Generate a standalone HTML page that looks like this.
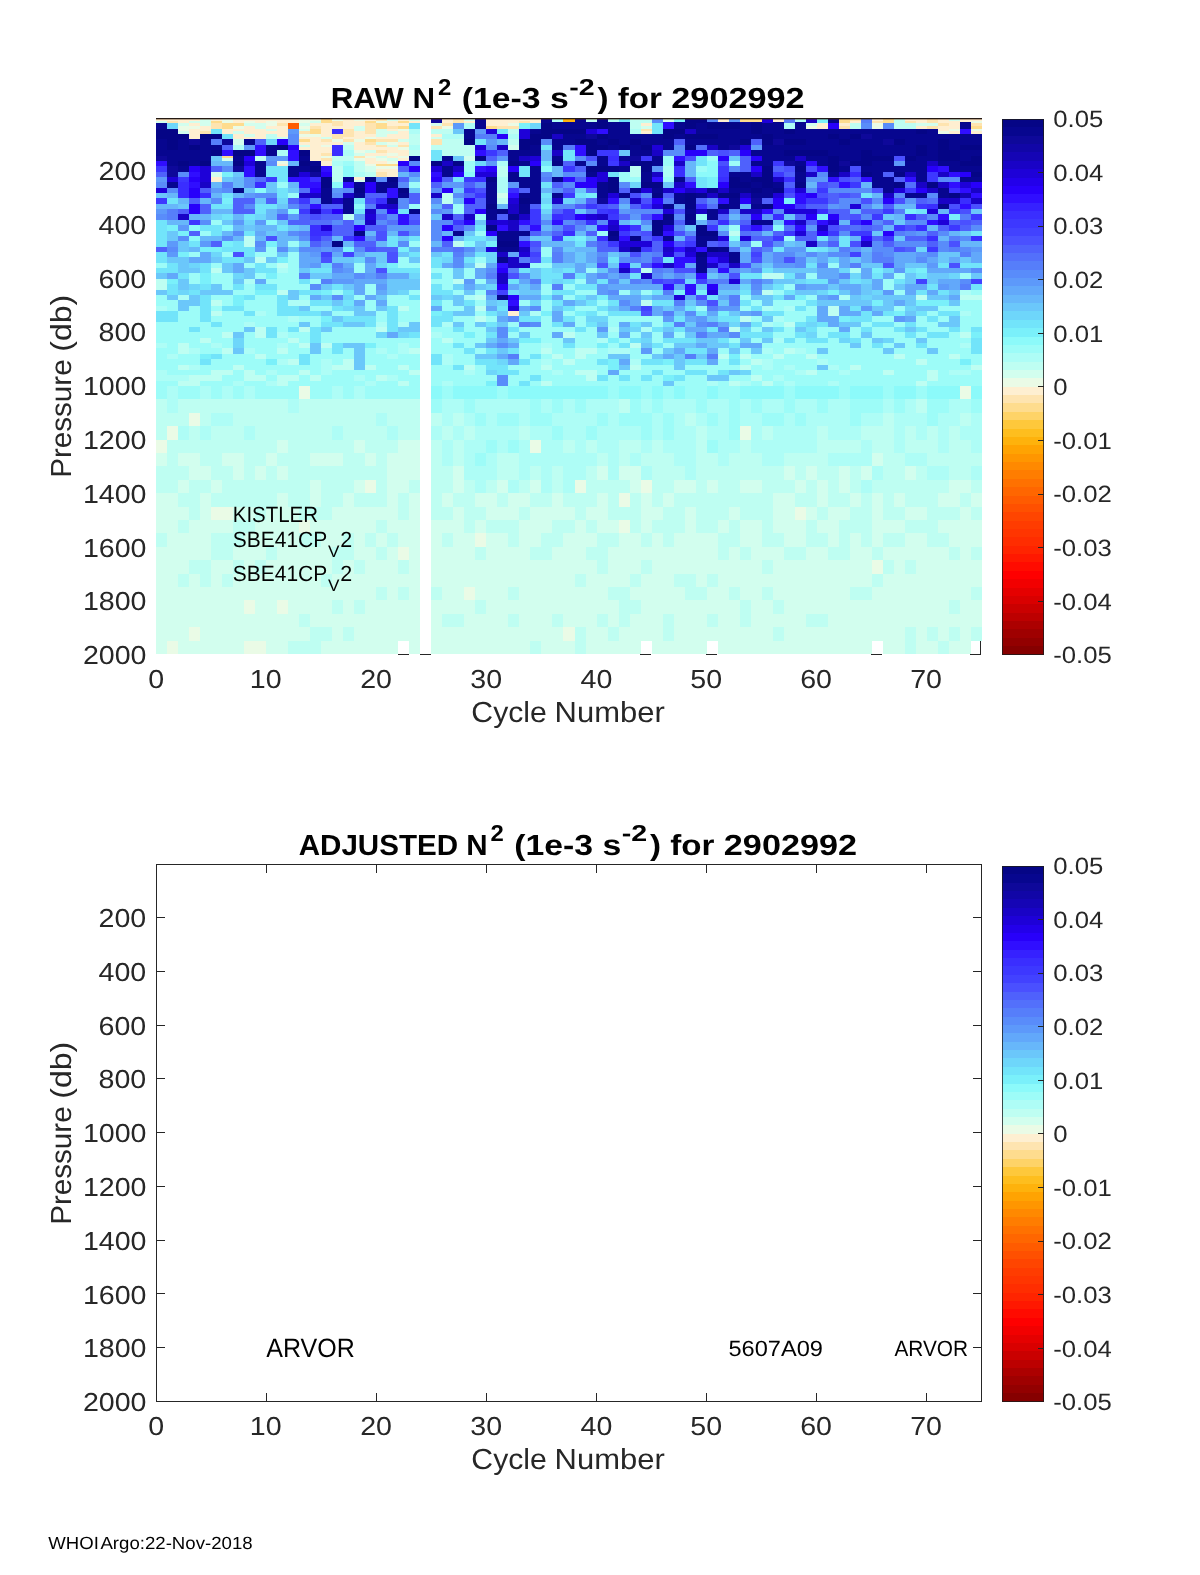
<!DOCTYPE html>
<html><head><meta charset="utf-8"><title>N2 2902992</title>
<style>
html,body{margin:0;padding:0;background:#fff;}
body{width:1200px;height:1575px;overflow:hidden;font-family:"Liberation Sans",sans-serif;}
svg{display:block;font-family:"Liberation Sans",sans-serif;}
</style></head><body>
<svg width="1200" height="1575" viewBox="0 0 1200 1575" shape-rendering="crispEdges">
<rect x="0" y="0" width="1200" height="1575" fill="#ffffff"/>

<g id="heat"><path fill="#feefd1" d="M156 118.00h11V120.68h-11zM167 118.00h11V120.68h-11zM178 118.00h11V123.36h-11zM189 118.00h11V120.68h-11zM189 123.36h11V126.04h-11zM189 128.72h11V139.44h-11zM200 126.04h11V131.40h-11zM211 118.00h11V120.68h-11zM211 176.96h11V182.32h-11zM222 128.72h11V134.08h-11zM233 118.00h11V123.36h-11zM233 128.72h11V131.40h-11zM233 134.08h11V139.44h-11zM244 118.00h11V120.68h-11zM244 126.04h11V134.08h-11zM244 136.76h11V139.44h-11zM255 118.00h11V123.36h-11zM255 128.72h11V139.44h-11zM266 118.00h11V120.68h-11zM266 126.04h11V128.72h-11zM266 131.40h11V134.08h-11zM277 118.00h11V123.36h-11zM277 126.04h11V136.76h-11zM277 163.56h11V166.24h-11zM288 118.00h11V123.36h-11zM299 136.76h11V139.44h-11zM299 142.12h11V144.80h-11zM299 147.48h11V150.16h-11zM310 123.36h11V126.04h-11zM310 136.76h11V160.88h-11zM321 123.36h11V136.76h-11zM321 142.12h11V144.80h-11zM321 147.48h11V152.84h-11zM321 160.88h11V166.24h-11zM332 126.04h11V128.72h-11zM332 142.12h11V144.80h-11zM343 118.00h11V128.72h-11zM343 136.76h11V139.44h-11zM354 120.68h11V126.04h-11zM354 131.40h11V139.44h-11zM354 142.12h11V150.16h-11zM354 176.96h11V179.64h-11zM365 118.00h11V120.68h-11zM365 134.08h11V136.76h-11zM365 144.80h11V150.16h-11zM365 152.84h11V155.52h-11zM365 158.20h11V163.56h-11zM376 136.76h11V139.44h-11zM376 147.48h11V150.16h-11zM376 152.84h11V155.52h-11zM376 160.88h11V163.56h-11zM376 168.92h11V171.60h-11zM387 120.68h11V126.04h-11zM387 128.72h11V131.40h-11zM387 134.08h11V139.44h-11zM387 147.48h11V152.84h-11zM387 155.52h11V158.20h-11zM387 168.92h11V176.96h-11zM398 118.00h11V120.68h-11zM398 123.36h11V126.04h-11zM398 131.40h11V139.44h-11zM398 142.12h11V144.80h-11zM398 150.16h11V155.52h-11zM398 158.20h11V160.88h-11zM409 120.68h11V123.36h-11zM431 134.08h11V136.76h-11zM442 118.00h11V123.36h-11zM464 120.68h11V123.36h-11zM486 118.00h11V126.04h-11zM497 118.00h11V126.04h-11zM508 118.00h11V123.36h-11zM508 310.96h11V316.32h-11zM519 118.00h11V120.68h-11zM530 118.00h11V123.36h-11zM641 123.36h11V126.04h-11zM641 131.40h11V134.08h-11zM718 118.00h11V121.70h-11zM773 118.00h11V121.70h-11zM817 123.36h11V128.72h-11zM839 123.36h11V126.04h-11zM850 120.68h11V123.36h-11zM872 118.00h11V120.68h-11zM905 118.00h11V120.68h-11zM916 118.00h11V123.36h-11zM916 126.04h11V128.72h-11zM938 118.00h11V123.36h-11zM938 126.04h11V131.40h-11zM949 120.68h11V128.72h-11zM949 131.40h11V134.08h-11zM960 118.00h11V121.70h-11zM971 118.00h11V120.68h-11zM971 131.40h11V134.08h-11z"/>
<path fill="#d2feee" d="M156 120.68h11V123.36h-11zM156 453.00h11V466.40h-11zM156 493.20h11V533.40h-11zM156 546.80h11V654.00h-11zM167 493.20h11V640.60h-11zM178 123.36h11V126.04h-11zM178 131.40h11V134.08h-11zM178 453.00h11V466.40h-11zM178 479.80h11V493.20h-11zM178 506.60h11V520.00h-11zM178 533.40h11V573.60h-11zM178 587.00h11V654.00h-11zM189 120.68h11V123.36h-11zM189 453.00h11V479.80h-11zM189 520.00h11V560.20h-11zM189 573.60h11V627.20h-11zM189 640.60h11V654.00h-11zM200 118.00h11V126.04h-11zM200 466.40h11V479.80h-11zM200 493.20h11V560.20h-11zM200 587.00h11V654.00h-11zM211 171.60h11V176.96h-11zM211 479.80h11V493.20h-11zM211 520.00h11V533.40h-11zM211 560.20h11V654.00h-11zM222 158.20h11V160.88h-11zM222 453.00h11V466.40h-11zM222 520.00h11V533.40h-11zM222 560.20h11V573.60h-11zM222 587.00h11V654.00h-11zM233 131.40h11V134.08h-11zM233 139.44h11V144.80h-11zM233 453.00h11V479.80h-11zM233 506.60h11V520.00h-11zM233 546.80h11V560.20h-11zM233 573.60h11V654.00h-11zM244 123.36h11V126.04h-11zM244 134.08h11V136.76h-11zM244 506.60h11V520.00h-11zM244 533.40h11V600.40h-11zM244 613.80h11V640.60h-11zM255 123.36h11V128.72h-11zM255 466.40h11V479.80h-11zM255 520.00h11V560.20h-11zM255 573.60h11V640.60h-11zM266 128.72h11V131.40h-11zM266 453.00h11V466.40h-11zM266 506.60h11V546.80h-11zM266 560.20h11V654.00h-11zM277 136.76h11V139.44h-11zM277 439.60h11V453.00h-11zM277 466.40h11V479.80h-11zM277 493.20h11V600.40h-11zM277 613.80h11V654.00h-11zM288 506.60h11V640.60h-11zM299 123.36h11V126.04h-11zM299 128.72h11V131.40h-11zM299 144.80h11V147.48h-11zM299 546.80h11V613.80h-11zM299 627.20h11V640.60h-11zM310 120.68h11V123.36h-11zM310 453.00h11V466.40h-11zM310 479.80h11V506.60h-11zM310 520.00h11V533.40h-11zM310 546.80h11V627.20h-11zM321 136.76h11V139.44h-11zM321 453.00h11V466.40h-11zM321 520.00h11V573.60h-11zM321 587.00h11V627.20h-11zM321 640.60h11V654.00h-11zM332 453.00h11V466.40h-11zM332 506.60h11V546.80h-11zM332 573.60h11V600.40h-11zM332 613.80h11V654.00h-11zM343 142.12h11V144.80h-11zM343 493.20h11V533.40h-11zM343 560.20h11V627.20h-11zM343 640.60h11V654.00h-11zM354 126.04h11V131.40h-11zM354 152.84h11V155.52h-11zM354 179.64h11V182.32h-11zM354 439.60h11V453.00h-11zM354 479.80h11V493.20h-11zM354 506.60h11V560.20h-11zM354 573.60h11V600.40h-11zM354 613.80h11V654.00h-11zM365 150.16h11V152.84h-11zM365 166.24h11V171.60h-11zM365 453.00h11V466.40h-11zM365 506.60h11V533.40h-11zM365 546.80h11V654.00h-11zM376 128.72h11V136.76h-11zM376 142.12h11V144.80h-11zM376 155.52h11V158.20h-11zM376 506.60h11V520.00h-11zM376 533.40h11V546.80h-11zM376 560.20h11V587.00h-11zM376 600.40h11V654.00h-11zM387 118.00h11V120.68h-11zM387 131.40h11V134.08h-11zM387 144.80h11V147.48h-11zM387 158.20h11V160.88h-11zM387 453.00h11V533.40h-11zM387 546.80h11V654.00h-11zM398 139.44h11V142.12h-11zM398 439.60h11V493.20h-11zM398 520.00h11V546.80h-11zM398 573.60h11V587.00h-11zM398 600.40h11V640.60h-11zM409 118.00h11V120.68h-11zM409 439.60h11V479.80h-11zM409 493.20h11V654.00h-11zM431 123.36h11V126.04h-11zM431 136.76h11V139.44h-11zM431 520.00h11V587.00h-11zM431 600.40h11V654.00h-11zM442 493.20h11V506.60h-11zM442 520.00h11V533.40h-11zM442 546.80h11V613.80h-11zM442 627.20h11V654.00h-11zM453 466.40h11V493.20h-11zM453 506.60h11V613.80h-11zM453 627.20h11V654.00h-11zM464 118.00h11V120.68h-11zM464 155.52h11V160.88h-11zM464 533.40h11V587.00h-11zM464 600.40h11V654.00h-11zM475 493.20h11V506.60h-11zM475 520.00h11V533.40h-11zM475 560.20h11V600.40h-11zM475 613.80h11V654.00h-11zM486 493.20h11V520.00h-11zM486 533.40h11V654.00h-11zM497 193.04h11V198.40h-11zM497 479.80h11V493.20h-11zM497 506.60h11V520.00h-11zM497 533.40h11V654.00h-11zM508 144.80h11V150.16h-11zM508 493.20h11V520.00h-11zM508 546.80h11V587.00h-11zM508 600.40h11V613.80h-11zM508 627.20h11V654.00h-11zM519 493.20h11V506.60h-11zM519 520.00h11V654.00h-11zM530 479.80h11V493.20h-11zM530 506.60h11V546.80h-11zM530 560.20h11V640.60h-11zM541 506.60h11V533.40h-11zM541 560.20h11V654.00h-11zM552 493.20h11V520.00h-11zM552 546.80h11V613.80h-11zM552 627.20h11V654.00h-11zM563 506.60h12V520.00h-12zM563 533.40h12V627.20h-12zM563 640.60h12V654.00h-12zM575 520.00h11V573.60h-11zM575 587.00h11V627.20h-11zM586 506.60h11V520.00h-11zM586 533.40h11V546.80h-11zM586 560.20h11V654.00h-11zM597 466.40h11V479.80h-11zM597 493.20h11V533.40h-11zM597 573.60h11V613.80h-11zM597 627.20h11V654.00h-11zM608 520.00h11V533.40h-11zM608 546.80h11V587.00h-11zM608 600.40h11V627.20h-11zM608 640.60h11V654.00h-11zM619 466.40h11V479.80h-11zM619 533.40h11V587.00h-11zM619 627.20h11V654.00h-11zM630 466.40h11V493.20h-11zM630 533.40h11V573.60h-11zM630 587.00h11V600.40h-11zM630 613.80h11V654.00h-11zM641 126.04h11V128.72h-11zM641 493.20h11V533.40h-11zM641 546.80h11V560.20h-11zM641 573.60h11V640.60h-11zM652 506.60h11V520.00h-11zM652 533.40h11V654.00h-11zM663 118.00h11V121.70h-11zM663 493.20h11V506.60h-11zM663 546.80h11V613.80h-11zM663 640.60h11V654.00h-11zM674 479.80h11V493.20h-11zM674 533.40h11V573.60h-11zM674 587.00h11V654.00h-11zM685 479.80h11V493.20h-11zM685 506.60h11V573.60h-11zM685 600.40h11V654.00h-11zM696 533.40h11V587.00h-11zM696 600.40h11V654.00h-11zM707 479.80h11V493.20h-11zM707 533.40h11V573.60h-11zM707 587.00h11V613.80h-11zM707 627.20h11V640.60h-11zM718 520.00h11V533.40h-11zM718 560.20h11V654.00h-11zM729 506.60h11V520.00h-11zM729 546.80h11V587.00h-11zM729 600.40h11V654.00h-11zM740 479.80h11V493.20h-11zM740 520.00h11V546.80h-11zM740 560.20h11V600.40h-11zM740 627.20h11V654.00h-11zM751 479.80h11V493.20h-11zM751 520.00h11V654.00h-11zM762 546.80h11V560.20h-11zM762 573.60h11V587.00h-11zM762 600.40h11V654.00h-11zM773 493.20h11V533.40h-11zM773 546.80h11V600.40h-11zM773 613.80h11V627.20h-11zM773 640.60h11V654.00h-11zM784 466.40h11V479.80h-11zM784 493.20h11V546.80h-11zM784 560.20h11V654.00h-11zM795 479.80h11V493.20h-11zM795 520.00h11V546.80h-11zM795 560.20h11V654.00h-11zM806 123.36h11V126.04h-11zM806 466.40h11V479.80h-11zM806 506.60h11V520.00h-11zM806 546.80h11V613.80h-11zM806 627.20h11V654.00h-11zM817 479.80h11V506.60h-11zM817 520.00h11V533.40h-11zM817 546.80h11V613.80h-11zM817 627.20h11V654.00h-11zM828 506.60h11V546.80h-11zM828 560.20h11V654.00h-11zM839 466.40h11V493.20h-11zM839 506.60h11V520.00h-11zM839 560.20h11V654.00h-11zM850 493.20h11V506.60h-11zM850 533.40h11V587.00h-11zM850 600.40h11V654.00h-11zM861 466.40h11V479.80h-11zM861 546.80h11V587.00h-11zM861 600.40h11V654.00h-11zM872 453.00h11V466.40h-11zM872 493.20h11V546.80h-11zM872 587.00h11V640.60h-11zM883 520.00h11V533.40h-11zM883 546.80h11V560.20h-11zM883 573.60h11V654.00h-11zM894 493.20h11V506.60h-11zM894 520.00h11V533.40h-11zM894 546.80h11V654.00h-11zM905 466.40h11V479.80h-11zM905 506.60h11V520.00h-11zM905 533.40h11V560.20h-11zM905 573.60h11V627.20h-11zM916 123.36h11V126.04h-11zM916 506.60h11V520.00h-11zM916 533.40h11V654.00h-11zM927 123.36h11V126.04h-11zM927 546.80h11V627.20h-11zM927 640.60h11V654.00h-11zM938 493.20h11V506.60h-11zM938 520.00h11V533.40h-11zM938 546.80h11V640.60h-11zM949 118.00h11V120.68h-11zM949 479.80h11V506.60h-11zM949 520.00h11V546.80h-11zM949 560.20h11V600.40h-11zM949 613.80h11V627.20h-11zM949 640.60h11V654.00h-11zM960 479.80h11V493.20h-11zM960 506.60h11V654.00h-11zM971 493.20h11V506.60h-11zM971 520.00h11V546.80h-11zM971 560.20h11V587.00h-11zM971 600.40h11V627.20h-11z"/>
<path fill="#07068f" d="M156 123.36h11V128.72h-11zM156 139.44h11V155.52h-11zM167 150.16h11V166.24h-11zM167 182.32h11V187.68h-11zM178 139.44h11V160.88h-11zM178 166.24h11V171.60h-11zM189 150.16h11V166.24h-11zM200 139.44h11V160.88h-11zM211 144.80h11V150.16h-11zM233 155.52h11V160.88h-11zM244 139.44h11V144.80h-11zM255 160.88h11V176.96h-11zM266 144.80h11V155.52h-11zM288 166.24h11V176.96h-11zM299 155.52h11V160.88h-11zM299 166.24h11V171.60h-11zM310 160.88h11V166.24h-11zM321 187.68h11V203.76h-11zM343 176.96h11V182.32h-11zM343 198.40h11V214.48h-11zM354 182.32h11V187.68h-11zM354 193.04h11V198.40h-11zM376 182.32h11V193.04h-11zM387 182.32h11V187.68h-11zM387 198.40h11V203.76h-11zM398 193.04h11V198.40h-11zM442 155.52h11V160.88h-11zM442 166.24h11V176.96h-11zM453 230.56h11V235.92h-11zM464 128.72h11V139.44h-11zM475 118.00h11V128.72h-11zM486 182.32h11V203.76h-11zM486 209.12h11V219.84h-11zM497 230.56h11V241.28h-11zM497 246.64h11V252.00h-11zM497 257.36h11V262.72h-11zM497 294.88h11V300.24h-11zM508 150.16h11V160.88h-11zM508 171.60h11V182.32h-11zM508 214.48h11V219.84h-11zM508 230.56h11V241.28h-11zM508 246.64h11V252.00h-11zM519 150.16h11V155.52h-11zM519 160.88h11V166.24h-11zM519 176.96h11V187.68h-11zM519 193.04h11V198.40h-11zM519 203.76h11V214.48h-11zM519 230.56h11V235.92h-11zM530 128.72h11V134.08h-11zM530 144.80h11V155.52h-11zM530 166.24h11V203.76h-11zM541 118.00h11V123.36h-11zM552 121.70h11V128.72h-11zM552 139.44h11V150.16h-11zM552 155.52h11V160.88h-11zM552 176.96h11V182.32h-11zM552 193.04h11V198.40h-11zM563 121.70h12V128.72h-12zM563 134.08h12V144.80h-12zM575 118.00h11V128.72h-11zM575 134.08h11V139.44h-11zM575 160.88h11V166.24h-11zM586 121.70h11V128.72h-11zM586 171.60h11V176.96h-11zM597 139.44h11V144.80h-11zM597 155.52h11V166.24h-11zM597 182.32h11V198.40h-11zM608 121.70h11V139.44h-11zM608 144.80h11V150.16h-11zM608 235.92h11V241.28h-11zM619 121.70h11V144.80h-11zM619 155.52h11V160.88h-11zM619 166.24h11V171.60h-11zM619 193.04h11V198.40h-11zM630 134.08h11V139.44h-11zM630 144.80h11V155.52h-11zM630 187.68h11V193.04h-11zM630 246.64h11V252.00h-11zM641 134.08h11V144.80h-11zM641 150.16h11V155.52h-11zM641 171.60h11V182.32h-11zM652 134.08h11V144.80h-11zM652 155.52h11V166.24h-11zM652 187.68h11V193.04h-11zM663 139.44h11V150.16h-11zM663 203.76h11V209.12h-11zM663 219.84h11V225.20h-11zM663 235.92h11V241.28h-11zM674 121.70h11V128.72h-11zM674 134.08h11V139.44h-11zM674 176.96h11V182.32h-11zM674 193.04h11V203.76h-11zM685 139.44h11V144.80h-11zM685 209.12h11V214.48h-11zM685 219.84h11V225.20h-11zM696 123.36h11V134.08h-11zM696 139.44h11V144.80h-11zM696 193.04h11V198.40h-11zM696 235.92h11V246.64h-11zM696 257.36h11V273.44h-11zM707 121.70h11V123.36h-11zM707 128.72h11V134.08h-11zM707 139.44h11V144.80h-11zM707 187.68h11V193.04h-11zM707 209.12h11V219.84h-11zM707 235.92h11V241.28h-11zM718 121.70h11V123.36h-11zM718 128.72h11V150.16h-11zM718 246.64h11V252.00h-11zM729 121.70h11V123.36h-11zM729 128.72h11V144.80h-11zM729 171.60h11V176.96h-11zM729 187.68h11V193.04h-11zM729 198.40h11V209.12h-11zM729 252.00h11V262.72h-11zM740 123.36h11V139.44h-11zM740 171.60h11V182.32h-11zM740 187.68h11V193.04h-11zM751 121.70h11V123.36h-11zM751 134.08h11V139.44h-11zM751 150.16h11V155.52h-11zM751 160.88h11V166.24h-11zM751 182.32h11V187.68h-11zM751 193.04h11V198.40h-11zM751 203.76h11V209.12h-11zM751 219.84h11V225.20h-11zM762 123.36h11V134.08h-11zM762 144.80h11V166.24h-11zM762 187.68h11V198.40h-11zM762 219.84h11V225.20h-11zM773 123.36h11V139.44h-11zM773 144.80h11V160.88h-11zM773 182.32h11V187.68h-11zM784 134.08h11V139.44h-11zM784 144.80h11V150.16h-11zM784 155.52h11V160.88h-11zM795 121.70h11V139.44h-11zM795 144.80h11V150.16h-11zM795 160.88h11V166.24h-11zM795 171.60h11V182.32h-11zM806 128.72h11V150.16h-11zM806 155.52h11V160.88h-11zM817 128.72h11V150.16h-11zM817 155.52h11V166.24h-11zM828 128.72h11V134.08h-11zM828 139.44h11V155.52h-11zM828 171.60h11V176.96h-11zM839 128.72h11V139.44h-11zM839 144.80h11V160.88h-11zM839 166.24h11V171.60h-11zM850 128.72h11V134.08h-11zM850 139.44h11V160.88h-11zM861 128.72h11V134.08h-11zM861 139.44h11V150.16h-11zM861 166.24h11V171.60h-11zM872 128.72h11V155.52h-11zM872 160.88h11V187.68h-11zM883 128.72h11V139.44h-11zM883 144.80h11V155.52h-11zM883 160.88h11V171.60h-11zM883 176.96h11V193.04h-11zM894 128.72h11V139.44h-11zM894 144.80h11V155.52h-11zM894 166.24h11V171.60h-11zM905 128.72h11V155.52h-11zM905 160.88h11V171.60h-11zM905 193.04h11V198.40h-11zM916 134.08h11V144.80h-11zM916 155.52h11V182.32h-11zM916 193.04h11V198.40h-11zM927 128.72h11V160.88h-11zM938 134.08h11V139.44h-11zM938 160.88h11V166.24h-11zM938 187.68h11V198.40h-11zM938 203.76h11V209.12h-11zM949 134.08h11V150.16h-11zM949 160.88h11V171.60h-11zM960 123.36h11V128.72h-11zM960 134.08h11V144.80h-11zM960 150.16h11V160.88h-11zM960 166.24h11V171.60h-11zM960 176.96h11V182.32h-11zM971 134.08h11V144.80h-11zM971 150.16h11V155.52h-11zM971 166.24h11V171.60h-11zM971 176.96h11V182.32h-11z"/>
<path fill="#050586" d="M156 128.72h11V139.44h-11zM167 128.72h11V150.16h-11zM178 134.08h11V139.44h-11zM178 160.88h11V166.24h-11zM189 144.80h11V150.16h-11zM200 134.08h11V139.44h-11zM200 160.88h11V166.24h-11zM211 134.08h11V139.44h-11zM211 150.16h11V155.52h-11zM233 150.16h11V155.52h-11zM233 160.88h11V166.24h-11zM233 187.68h11V193.04h-11zM244 150.16h11V155.52h-11zM277 144.80h11V150.16h-11zM299 150.16h11V155.52h-11zM299 160.88h11V166.24h-11zM310 166.24h11V171.60h-11zM321 176.96h11V187.68h-11zM332 241.28h11V246.64h-11zM354 187.68h11V193.04h-11zM354 230.56h11V235.92h-11zM365 176.96h11V182.32h-11zM387 176.96h11V182.32h-11zM398 187.68h11V193.04h-11zM409 155.52h11V160.88h-11zM409 209.12h11V214.48h-11zM431 160.88h11V166.24h-11zM453 160.88h11V166.24h-11zM464 139.44h11V144.80h-11zM475 155.52h11V160.88h-11zM486 176.96h11V182.32h-11zM486 203.76h11V209.12h-11zM486 225.20h11V230.56h-11zM497 209.12h11V214.48h-11zM497 241.28h11V246.64h-11zM508 160.88h11V166.24h-11zM508 241.28h11V246.64h-11zM519 139.44h11V150.16h-11zM519 198.40h11V203.76h-11zM530 134.08h11V144.80h-11zM541 123.36h11V139.44h-11zM552 128.72h11V134.08h-11zM552 160.88h11V166.24h-11zM563 128.72h12V134.08h-12zM575 128.72h11V134.08h-11zM575 139.44h11V144.80h-11zM586 139.44h11V155.52h-11zM586 166.24h11V171.60h-11zM597 118.00h11V128.72h-11zM597 134.08h11V139.44h-11zM597 144.80h11V150.16h-11zM597 166.24h11V171.60h-11zM608 139.44h11V144.80h-11zM608 166.24h11V171.60h-11zM608 176.96h11V193.04h-11zM608 230.56h11V235.92h-11zM619 144.80h11V150.16h-11zM630 139.44h11V144.80h-11zM630 160.88h11V166.24h-11zM630 235.92h11V241.28h-11zM641 144.80h11V150.16h-11zM641 160.88h11V171.60h-11zM641 182.32h11V187.68h-11zM652 182.32h11V187.68h-11zM652 193.04h11V198.40h-11zM652 219.84h11V235.92h-11zM663 128.72h11V139.44h-11zM663 214.48h11V219.84h-11zM674 128.72h11V134.08h-11zM685 118.00h11V128.72h-11zM685 134.08h11V139.44h-11zM685 144.80h11V150.16h-11zM685 193.04h11V209.12h-11zM685 214.48h11V219.84h-11zM696 118.00h11V123.36h-11zM696 134.08h11V139.44h-11zM696 225.20h11V235.92h-11zM696 252.00h11V257.36h-11zM707 123.36h11V128.72h-11zM707 134.08h11V139.44h-11zM707 230.56h11V235.92h-11zM707 246.64h11V252.00h-11zM718 123.36h11V128.72h-11zM718 193.04h11V198.40h-11zM718 203.76h11V209.12h-11zM729 123.36h11V128.72h-11zM729 176.96h11V187.68h-11zM729 193.04h11V198.40h-11zM740 139.44h11V144.80h-11zM740 182.32h11V187.68h-11zM751 123.36h11V134.08h-11zM751 176.96h11V182.32h-11zM751 187.68h11V193.04h-11zM762 134.08h11V144.80h-11zM762 166.24h11V187.68h-11zM762 203.76h11V209.12h-11zM773 121.70h11V123.36h-11zM773 187.68h11V193.04h-11zM784 128.72h11V134.08h-11zM784 139.44h11V144.80h-11zM784 150.16h11V155.52h-11zM795 139.44h11V144.80h-11zM795 150.16h11V155.52h-11zM795 166.24h11V171.60h-11zM795 182.32h11V187.68h-11zM806 150.16h11V155.52h-11zM817 150.16h11V155.52h-11zM828 118.00h11V123.36h-11zM828 134.08h11V139.44h-11zM828 155.52h11V171.60h-11zM839 139.44h11V144.80h-11zM850 134.08h11V139.44h-11zM850 160.88h11V166.24h-11zM861 150.16h11V166.24h-11zM861 171.60h11V176.96h-11zM872 155.52h11V160.88h-11zM883 155.52h11V160.88h-11zM894 139.44h11V144.80h-11zM894 171.60h11V176.96h-11zM894 182.32h11V187.68h-11zM905 155.52h11V160.88h-11zM916 128.72h11V134.08h-11zM916 144.80h11V155.52h-11zM927 182.32h11V187.68h-11zM938 139.44h11V160.88h-11zM949 150.16h11V160.88h-11zM949 193.04h11V198.40h-11zM960 121.70h11V123.36h-11zM960 144.80h11V150.16h-11zM960 160.88h11V166.24h-11zM971 144.80h11V150.16h-11zM971 155.52h11V166.24h-11zM971 171.60h11V176.96h-11z"/>
<path fill="#0e089a" d="M156 155.52h11V160.88h-11zM167 166.24h11V176.96h-11zM189 139.44h11V144.80h-11zM222 139.44h11V144.80h-11zM233 166.24h11V171.60h-11zM310 171.60h11V176.96h-11zM431 118.00h11V123.36h-11zM586 134.08h11V139.44h-11zM597 198.40h11V203.76h-11zM630 155.52h11V160.88h-11zM729 144.80h11V150.16h-11zM740 121.70h11V123.36h-11zM751 198.40h11V203.76h-11zM773 139.44h11V144.80h-11zM784 160.88h11V166.24h-11zM839 160.88h11V166.24h-11zM861 134.08h11V139.44h-11zM883 139.44h11V144.80h-11z"/>
<path fill="#300eff" d="M156 160.88h11V166.24h-11zM189 171.60h11V176.96h-11zM189 182.32h11V187.68h-11zM222 150.16h11V155.52h-11zM244 166.24h11V176.96h-11zM255 144.80h11V155.52h-11zM288 150.16h11V160.88h-11zM288 176.96h11V182.32h-11zM299 176.96h11V187.68h-11zM310 182.32h11V187.68h-11zM310 203.76h11V209.12h-11zM321 166.24h11V171.60h-11zM343 182.32h11V187.68h-11zM354 235.92h11V241.28h-11zM387 187.68h11V198.40h-11zM398 214.48h11V225.20h-11zM431 171.60h11V176.96h-11zM475 150.16h11V155.52h-11zM475 166.24h11V171.60h-11zM497 225.20h11V230.56h-11zM497 262.72h11V268.08h-11zM508 193.04h11V198.40h-11zM508 300.24h11V305.60h-11zM519 219.84h11V225.20h-11zM519 241.28h11V246.64h-11zM530 225.20h11V230.56h-11zM552 219.84h11V225.20h-11zM563 176.96h12V182.32h-12zM575 144.80h11V155.52h-11zM597 128.72h11V134.08h-11zM597 225.20h11V230.56h-11zM608 198.40h11V203.76h-11zM619 225.20h11V230.56h-11zM619 235.92h11V241.28h-11zM619 262.72h11V268.08h-11zM652 176.96h11V182.32h-11zM652 214.48h11V219.84h-11zM652 262.72h11V268.08h-11zM663 121.70h11V128.72h-11zM663 230.56h11V235.92h-11zM663 284.16h11V289.52h-11zM674 155.52h11V160.88h-11zM674 246.64h11V252.00h-11zM674 257.36h11V268.08h-11zM685 182.32h11V187.68h-11zM685 257.36h11V262.72h-11zM685 284.16h11V294.88h-11zM696 246.64h11V252.00h-11zM696 273.44h11V278.80h-11zM707 257.36h11V262.72h-11zM718 198.40h11V203.76h-11zM718 268.08h11V273.44h-11zM751 225.20h11V230.56h-11zM762 209.12h11V214.48h-11zM784 219.84h11V225.20h-11zM795 193.04h11V203.76h-11zM795 225.20h11V230.56h-11zM806 160.88h11V166.24h-11zM817 166.24h11V171.60h-11zM817 219.84h11V225.20h-11zM828 176.96h11V182.32h-11zM839 182.32h11V187.68h-11zM861 176.96h11V182.32h-11zM861 235.92h11V241.28h-11zM905 176.96h11V182.32h-11zM927 219.84h11V225.20h-11zM938 166.24h11V171.60h-11zM938 214.48h11V219.84h-11zM949 171.60h11V176.96h-11zM949 182.32h11V187.68h-11zM960 128.72h11V134.08h-11zM960 187.68h11V193.04h-11zM960 203.76h11V209.12h-11zM971 193.04h11V198.40h-11z"/>
<path fill="#3d38ff" d="M156 166.24h11V171.60h-11zM156 198.40h11V203.76h-11zM178 176.96h11V182.32h-11zM189 219.84h11V225.20h-11zM266 176.96h11V182.32h-11zM299 198.40h11V203.76h-11zM299 209.12h11V214.48h-11zM310 235.92h11V241.28h-11zM321 209.12h11V214.48h-11zM343 235.92h11V241.28h-11zM453 219.84h11V225.20h-11zM464 176.96h11V182.32h-11zM464 187.68h11V193.04h-11zM475 193.04h11V198.40h-11zM486 150.16h11V155.52h-11zM530 209.12h11V225.20h-11zM552 235.92h11V241.28h-11zM563 166.24h12V171.60h-12zM563 193.04h12V198.40h-12zM563 209.12h12V219.84h-12zM586 203.76h11V209.12h-11zM597 150.16h11V155.52h-11zM597 209.12h11V214.48h-11zM608 150.16h11V155.52h-11zM608 160.88h11V166.24h-11zM608 214.48h11V219.84h-11zM608 241.28h11V246.64h-11zM619 230.56h11V235.92h-11zM630 225.20h11V230.56h-11zM641 155.52h11V160.88h-11zM641 246.64h11V252.00h-11zM652 235.92h11V241.28h-11zM685 241.28h11V246.64h-11zM707 225.20h11V230.56h-11zM718 166.24h11V176.96h-11zM740 225.20h11V230.56h-11zM773 160.88h11V166.24h-11zM773 171.60h11V176.96h-11zM773 235.92h11V241.28h-11zM784 187.68h11V193.04h-11zM784 230.56h11V235.92h-11zM795 203.76h11V209.12h-11zM806 198.40h11V203.76h-11zM817 187.68h11V193.04h-11zM817 198.40h11V203.76h-11zM828 230.56h11V235.92h-11zM850 182.32h11V187.68h-11zM850 230.56h11V235.92h-11zM861 230.56h11V235.92h-11zM872 214.48h11V219.84h-11zM883 209.12h11V214.48h-11zM883 235.92h11V241.28h-11zM894 225.20h11V230.56h-11zM905 187.68h11V193.04h-11zM916 203.76h11V209.12h-11zM927 171.60h11V182.32h-11zM927 246.64h11V252.00h-11zM949 209.12h11V214.48h-11zM949 225.20h11V230.56h-11zM971 214.48h11V219.84h-11z"/>
<path fill="#4f61fc" d="M156 171.60h11V176.96h-11zM156 246.64h11V252.00h-11zM178 209.12h11V214.48h-11zM189 198.40h11V203.76h-11zM189 230.56h11V235.92h-11zM200 187.68h11V193.04h-11zM200 203.76h11V214.48h-11zM211 166.24h11V171.60h-11zM211 241.28h11V246.64h-11zM222 144.80h11V150.16h-11zM233 198.40h11V214.48h-11zM244 198.40h11V203.76h-11zM244 209.12h11V214.48h-11zM255 139.44h11V144.80h-11zM266 198.40h11V203.76h-11zM277 214.48h11V219.84h-11zM288 198.40h11V203.76h-11zM288 219.84h11V225.20h-11zM299 203.76h11V209.12h-11zM299 214.48h11V225.20h-11zM310 241.28h11V246.64h-11zM321 203.76h11V209.12h-11zM321 214.48h11V219.84h-11zM321 235.92h11V241.28h-11zM332 203.76h11V209.12h-11zM332 214.48h11V219.84h-11zM332 225.20h11V235.92h-11zM343 219.84h11V235.92h-11zM354 241.28h11V246.64h-11zM365 193.04h11V198.40h-11zM365 225.20h11V230.56h-11zM365 241.28h11V246.64h-11zM376 193.04h11V198.40h-11zM376 214.48h11V219.84h-11zM376 225.20h11V230.56h-11zM376 246.64h11V252.00h-11zM387 246.64h11V252.00h-11zM398 166.24h11V171.60h-11zM398 176.96h11V182.32h-11zM409 193.04h11V203.76h-11zM409 214.48h11V219.84h-11zM431 182.32h11V187.68h-11zM442 176.96h11V182.32h-11zM442 203.76h11V209.12h-11zM442 241.28h11V246.64h-11zM453 214.48h11V219.84h-11zM453 225.20h11V230.56h-11zM464 182.32h11V187.68h-11zM464 193.04h11V198.40h-11zM464 203.76h11V214.48h-11zM475 198.40h11V209.12h-11zM486 155.52h11V160.88h-11zM497 150.16h11V155.52h-11zM497 214.48h11V219.84h-11zM519 187.68h11V193.04h-11zM519 225.20h11V230.56h-11zM530 203.76h11V209.12h-11zM530 230.56h11V235.92h-11zM530 246.64h11V252.00h-11zM552 182.32h11V187.68h-11zM552 209.12h11V214.48h-11zM552 230.56h11V235.92h-11zM563 160.88h12V166.24h-12zM563 187.68h12V193.04h-12zM575 166.24h11V171.60h-11zM575 176.96h11V182.32h-11zM575 203.76h11V209.12h-11zM586 187.68h11V193.04h-11zM586 198.40h11V203.76h-11zM586 230.56h11V235.92h-11zM597 241.28h11V252.00h-11zM608 203.76h11V209.12h-11zM608 246.64h11V252.00h-11zM619 187.68h11V193.04h-11zM619 214.48h11V219.84h-11zM630 203.76h11V209.12h-11zM630 230.56h11V235.92h-11zM641 235.92h11V241.28h-11zM652 241.28h11V252.00h-11zM663 193.04h11V198.40h-11zM674 139.44h11V144.80h-11zM674 219.84h11V225.20h-11zM685 176.96h11V182.32h-11zM696 198.40h11V203.76h-11zM707 150.16h11V155.52h-11zM707 241.28h11V246.64h-11zM718 214.48h11V219.84h-11zM729 150.16h11V155.52h-11zM740 155.52h11V171.60h-11zM740 219.84h11V225.20h-11zM751 139.44h11V144.80h-11zM751 235.92h11V241.28h-11zM751 246.64h11V252.00h-11zM762 198.40h11V203.76h-11zM762 235.92h11V241.28h-11zM773 166.24h11V171.60h-11zM773 230.56h11V235.92h-11zM784 171.60h11V176.96h-11zM784 182.32h11V187.68h-11zM795 214.48h11V219.84h-11zM795 235.92h11V241.28h-11zM806 203.76h11V209.12h-11zM806 219.84h11V225.20h-11zM806 230.56h11V241.28h-11zM817 203.76h11V209.12h-11zM828 182.32h11V187.68h-11zM828 193.04h11V203.76h-11zM828 209.12h11V214.48h-11zM828 241.28h11V246.64h-11zM839 209.12h11V219.84h-11zM839 225.20h11V230.56h-11zM850 176.96h11V182.32h-11zM850 193.04h11V198.40h-11zM861 209.12h11V214.48h-11zM861 225.20h11V230.56h-11zM872 209.12h11V214.48h-11zM872 235.92h11V241.28h-11zM883 171.60h11V176.96h-11zM883 203.76h11V209.12h-11zM883 219.84h11V225.20h-11zM883 241.28h11V246.64h-11zM894 176.96h11V182.32h-11zM905 235.92h11V241.28h-11zM905 246.64h11V252.00h-11zM916 198.40h11V203.76h-11zM916 214.48h11V219.84h-11zM916 235.92h11V241.28h-11zM927 230.56h11V235.92h-11zM927 241.28h11V246.64h-11zM938 225.20h11V230.56h-11zM949 219.84h11V225.20h-11zM960 225.20h11V230.56h-11zM971 219.84h11V225.20h-11z"/>
<path fill="#5d99fa" d="M156 176.96h11V182.32h-11zM156 209.12h11V214.48h-11zM167 241.28h11V246.64h-11zM167 252.00h11V257.36h-11zM178 225.20h11V230.56h-11zM200 241.28h11V246.64h-11zM211 187.68h11V193.04h-11zM233 219.84h11V225.20h-11zM244 144.80h11V150.16h-11zM244 193.04h11V198.40h-11zM255 219.84h11V225.20h-11zM255 246.64h11V252.00h-11zM266 155.52h11V160.88h-11zM277 155.52h11V160.88h-11zM277 209.12h11V214.48h-11zM288 128.72h11V134.08h-11zM288 214.48h11V219.84h-11zM310 252.00h11V257.36h-11zM310 262.72h11V268.08h-11zM321 246.64h11V252.00h-11zM332 187.68h11V193.04h-11zM332 278.80h11V284.16h-11zM343 268.08h11V273.44h-11zM343 278.80h11V284.16h-11zM354 214.48h11V219.84h-11zM365 273.44h11V278.80h-11zM376 284.16h11V289.52h-11zM387 225.20h11V230.56h-11zM398 225.20h11V230.56h-11zM409 225.20h11V230.56h-11zM442 182.32h11V187.68h-11zM442 209.12h11V214.48h-11zM453 123.36h11V128.72h-11zM453 182.32h11V187.68h-11zM464 278.80h11V284.16h-11zM475 128.72h11V134.08h-11zM486 139.44h11V144.80h-11zM486 160.88h11V166.24h-11zM497 155.52h11V160.88h-11zM508 182.32h11V187.68h-11zM597 284.16h11V294.88h-11zM597 327.04h11V332.40h-11zM619 209.12h11V214.48h-11zM630 214.48h11V219.84h-11zM641 348.48h11V353.84h-11zM652 166.24h11V171.60h-11zM663 316.32h11V321.68h-11zM674 203.76h11V209.12h-11zM696 316.32h11V321.68h-11zM707 268.08h11V273.44h-11zM718 305.60h11V310.96h-11zM729 118.00h11V121.70h-11zM729 305.60h11V310.96h-11zM751 144.80h11V150.16h-11zM751 289.52h11V294.88h-11zM751 310.96h11V316.32h-11zM762 214.48h11V219.84h-11zM762 278.80h11V284.16h-11zM773 262.72h11V268.08h-11zM784 246.64h11V252.00h-11zM784 262.72h11V268.08h-11zM795 246.64h11V252.00h-11zM795 284.16h11V289.52h-11zM806 176.96h11V182.32h-11zM806 225.20h11V230.56h-11zM817 176.96h11V182.32h-11zM828 203.76h11V209.12h-11zM828 278.80h11V284.16h-11zM828 294.88h11V300.24h-11zM850 246.64h11V252.00h-11zM861 305.60h11V310.96h-11zM883 289.52h11V294.88h-11zM894 160.88h11V166.24h-11zM894 268.08h11V273.44h-11zM894 316.32h11V321.68h-11zM905 198.40h11V203.76h-11zM916 230.56h11V235.92h-11zM916 252.00h11V257.36h-11zM927 262.72h11V268.08h-11zM938 284.16h11V289.52h-11zM971 246.64h11V252.00h-11z"/>
<path fill="#598cfa" d="M156 182.32h11V187.68h-11zM156 214.48h11V219.84h-11zM167 187.68h11V193.04h-11zM167 246.64h11V252.00h-11zM178 171.60h11V176.96h-11zM178 235.92h11V241.28h-11zM200 219.84h11V225.20h-11zM211 198.40h11V203.76h-11zM222 166.24h11V171.60h-11zM222 187.68h11V193.04h-11zM222 235.92h11V241.28h-11zM233 230.56h11V235.92h-11zM244 176.96h11V187.68h-11zM244 203.76h11V209.12h-11zM255 193.04h11V198.40h-11zM255 241.28h11V246.64h-11zM266 160.88h11V166.24h-11zM266 193.04h11V198.40h-11zM277 246.64h11V252.00h-11zM288 134.08h11V144.80h-11zM288 203.76h11V209.12h-11zM288 230.56h11V235.92h-11zM299 235.92h11V241.28h-11zM299 246.64h11V252.00h-11zM310 198.40h11V203.76h-11zM310 246.64h11V252.00h-11zM310 284.16h11V289.52h-11zM332 193.04h11V198.40h-11zM332 219.84h11V225.20h-11zM332 246.64h11V252.00h-11zM332 268.08h11V273.44h-11zM332 294.88h11V300.24h-11zM343 187.68h11V193.04h-11zM354 246.64h11V252.00h-11zM354 273.44h11V278.80h-11zM365 235.92h11V241.28h-11zM365 257.36h11V262.72h-11zM376 176.96h11V182.32h-11zM376 209.12h11V214.48h-11zM376 219.84h11V225.20h-11zM387 214.48h11V219.84h-11zM398 182.32h11V187.68h-11zM398 198.40h11V209.12h-11zM398 241.28h11V246.64h-11zM409 160.88h11V166.24h-11zM409 171.60h11V176.96h-11zM409 230.56h11V235.92h-11zM431 187.68h11V193.04h-11zM431 198.40h11V203.76h-11zM431 209.12h11V214.48h-11zM431 219.84h11V241.28h-11zM442 219.84h11V225.20h-11zM453 193.04h11V198.40h-11zM453 257.36h11V268.08h-11zM464 225.20h11V230.56h-11zM464 246.64h11V252.00h-11zM475 182.32h11V187.68h-11zM486 144.80h11V150.16h-11zM486 268.08h11V273.44h-11zM497 327.04h11V337.76h-11zM497 343.12h11V348.48h-11zM497 375.28h11V386.00h-11zM508 316.32h11V321.68h-11zM519 273.44h11V278.80h-11zM530 305.60h11V310.96h-11zM530 321.68h11V327.04h-11zM541 139.44h11V144.80h-11zM541 171.60h11V176.96h-11zM541 219.84h11V225.20h-11zM541 230.56h11V235.92h-11zM552 187.68h11V193.04h-11zM552 203.76h11V209.12h-11zM552 225.20h11V230.56h-11zM552 246.64h11V252.00h-11zM563 171.60h12V176.96h-12zM563 182.32h12V187.68h-12zM563 203.76h12V209.12h-12zM563 219.84h12V225.20h-12zM575 155.52h11V160.88h-11zM575 171.60h11V176.96h-11zM575 225.20h11V230.56h-11zM586 160.88h11V166.24h-11zM586 209.12h11V214.48h-11zM597 219.84h11V225.20h-11zM597 252.00h11V257.36h-11zM597 273.44h11V278.80h-11zM608 268.08h11V273.44h-11zM608 278.80h11V284.16h-11zM608 289.52h11V294.88h-11zM619 182.32h11V187.68h-11zM619 198.40h11V203.76h-11zM619 257.36h11V262.72h-11zM619 273.44h11V278.80h-11zM619 300.24h11V305.60h-11zM630 209.12h11V214.48h-11zM641 193.04h11V198.40h-11zM641 209.12h11V214.48h-11zM641 219.84h11V225.20h-11zM641 252.00h11V262.72h-11zM641 278.80h11V284.16h-11zM652 118.00h11V123.36h-11zM652 209.12h11V214.48h-11zM652 273.44h11V278.80h-11zM663 150.16h11V155.52h-11zM663 268.08h11V273.44h-11zM674 144.80h11V155.52h-11zM674 214.48h11V219.84h-11zM674 225.20h11V230.56h-11zM674 273.44h11V278.80h-11zM685 230.56h11V235.92h-11zM685 310.96h11V316.32h-11zM696 300.24h11V305.60h-11zM696 321.68h11V327.04h-11zM707 118.00h11V121.70h-11zM707 198.40h11V203.76h-11zM718 230.56h11V235.92h-11zM729 166.24h11V171.60h-11zM729 209.12h11V214.48h-11zM729 219.84h11V225.20h-11zM729 268.08h11V273.44h-11zM729 332.40h11V337.76h-11zM740 241.28h11V246.64h-11zM751 268.08h11V273.44h-11zM751 284.16h11V289.52h-11zM773 209.12h11V214.48h-11zM773 241.28h11V246.64h-11zM773 252.00h11V262.72h-11zM784 252.00h11V257.36h-11zM795 257.36h11V268.08h-11zM806 187.68h11V193.04h-11zM806 252.00h11V257.36h-11zM817 171.60h11V176.96h-11zM817 241.28h11V246.64h-11zM817 262.72h11V268.08h-11zM828 187.68h11V193.04h-11zM828 235.92h11V241.28h-11zM828 252.00h11V257.36h-11zM839 187.68h11V193.04h-11zM839 198.40h11V209.12h-11zM839 230.56h11V235.92h-11zM839 252.00h11V257.36h-11zM839 273.44h11V278.80h-11zM850 187.68h11V193.04h-11zM850 198.40h11V203.76h-11zM861 123.36h11V128.72h-11zM861 187.68h11V193.04h-11zM861 203.76h11V209.12h-11zM861 214.48h11V219.84h-11zM872 198.40h11V203.76h-11zM872 219.84h11V225.20h-11zM872 241.28h11V252.00h-11zM883 123.36h11V128.72h-11zM883 246.64h11V257.36h-11zM894 193.04h11V198.40h-11zM894 241.28h11V246.64h-11zM905 219.84h11V225.20h-11zM905 230.56h11V235.92h-11zM905 241.28h11V246.64h-11zM916 219.84h11V225.20h-11zM916 241.28h11V246.64h-11zM916 257.36h11V262.72h-11zM927 193.04h11V198.40h-11zM927 214.48h11V219.84h-11zM927 252.00h11V257.36h-11zM938 176.96h11V182.32h-11zM938 230.56h11V235.92h-11zM938 241.28h11V252.00h-11zM949 176.96h11V182.32h-11zM960 235.92h11V241.28h-11zM960 246.64h11V252.00h-11zM960 278.80h11V284.16h-11zM971 225.20h11V230.56h-11zM971 268.08h11V273.44h-11z"/>
<path fill="#1e01d8" d="M156 187.68h11V193.04h-11zM167 176.96h11V182.32h-11zM200 166.24h11V182.32h-11zM244 160.88h11V166.24h-11zM299 171.60h11V176.96h-11zM321 225.20h11V230.56h-11zM365 214.48h11V219.84h-11zM376 203.76h11V209.12h-11zM431 166.24h11V171.60h-11zM475 144.80h11V150.16h-11zM475 171.60h11V176.96h-11zM486 128.72h11V134.08h-11zM486 171.60h11V176.96h-11zM486 246.64h11V252.00h-11zM497 219.84h11V225.20h-11zM508 198.40h11V203.76h-11zM508 305.60h11V310.96h-11zM519 128.72h11V139.44h-11zM519 252.00h11V257.36h-11zM530 155.52h11V160.88h-11zM586 128.72h11V134.08h-11zM586 214.48h11V219.84h-11zM597 171.60h11V182.32h-11zM608 193.04h11V198.40h-11zM608 219.84h11V225.20h-11zM619 241.28h11V246.64h-11zM630 241.28h11V246.64h-11zM641 187.68h11V193.04h-11zM641 241.28h11V246.64h-11zM652 144.80h11V150.16h-11zM652 203.76h11V209.12h-11zM663 209.12h11V214.48h-11zM663 225.20h11V230.56h-11zM663 252.00h11V257.36h-11zM674 294.88h11V300.24h-11zM685 252.00h11V257.36h-11zM696 187.68h11V193.04h-11zM707 289.52h11V294.88h-11zM718 235.92h11V241.28h-11zM718 257.36h11V262.72h-11zM729 278.80h11V284.16h-11zM740 144.80h11V150.16h-11zM740 235.92h11V241.28h-11zM762 118.00h11V123.36h-11zM773 193.04h11V198.40h-11zM784 209.12h11V214.48h-11zM795 187.68h11V193.04h-11zM795 209.12h11V214.48h-11zM795 230.56h11V235.92h-11zM806 209.12h11V214.48h-11zM828 219.84h11V225.20h-11zM850 203.76h11V209.12h-11zM894 187.68h11V193.04h-11zM927 209.12h11V214.48h-11zM938 219.84h11V225.20h-11zM960 182.32h11V187.68h-11z"/>
<path fill="#6bc7fa" d="M156 193.04h11V198.40h-11zM156 273.44h11V278.80h-11zM156 289.52h11V294.88h-11zM167 230.56h11V241.28h-11zM167 257.36h11V262.72h-11zM167 294.88h11V300.24h-11zM178 203.76h11V209.12h-11zM178 241.28h11V252.00h-11zM178 257.36h11V273.44h-11zM178 278.80h11V289.52h-11zM178 300.24h11V310.96h-11zM189 268.08h11V273.44h-11zM189 294.88h11V305.60h-11zM200 289.52h11V294.88h-11zM211 155.52h11V160.88h-11zM211 257.36h11V262.72h-11zM211 284.16h11V294.88h-11zM222 176.96h11V182.32h-11zM222 219.84h11V225.20h-11zM222 262.72h11V273.44h-11zM222 289.52h11V294.88h-11zM233 171.60h11V176.96h-11zM233 278.80h11V284.16h-11zM233 332.40h11V337.76h-11zM233 348.48h11V353.84h-11zM244 187.68h11V193.04h-11zM244 225.20h11V230.56h-11zM244 257.36h11V262.72h-11zM244 268.08h11V278.80h-11zM244 327.04h11V332.40h-11zM255 198.40h11V203.76h-11zM266 182.32h11V193.04h-11zM266 230.56h11V235.92h-11zM266 257.36h11V262.72h-11zM277 203.76h11V209.12h-11zM277 219.84h11V225.20h-11zM277 252.00h11V257.36h-11zM288 187.68h11V193.04h-11zM288 225.20h11V230.56h-11zM288 246.64h11V252.00h-11zM288 289.52h11V300.24h-11zM299 241.28h11V246.64h-11zM299 268.08h11V273.44h-11zM299 305.60h11V310.96h-11zM299 321.68h11V327.04h-11zM310 273.44h11V278.80h-11zM310 343.12h11V353.84h-11zM321 273.44h11V278.80h-11zM321 284.16h11V289.52h-11zM321 294.88h11V300.24h-11zM321 310.96h11V316.32h-11zM321 327.04h11V332.40h-11zM332 257.36h11V262.72h-11zM332 300.24h11V305.60h-11zM332 316.32h11V321.68h-11zM343 257.36h11V262.72h-11zM343 284.16h11V289.52h-11zM343 321.68h11V327.04h-11zM343 343.12h11V348.48h-11zM354 305.60h11V316.32h-11zM354 321.68h11V327.04h-11zM354 343.12h11V369.92h-11zM365 252.00h11V257.36h-11zM365 310.96h11V316.32h-11zM376 252.00h11V262.72h-11zM376 294.88h11V300.24h-11zM376 305.60h11V310.96h-11zM387 278.80h11V294.88h-11zM398 235.92h11V241.28h-11zM398 252.00h11V257.36h-11zM398 278.80h11V289.52h-11zM398 327.04h11V332.40h-11zM409 187.68h11V193.04h-11zM409 257.36h11V262.72h-11zM409 278.80h11V289.52h-11zM409 321.68h11V332.40h-11zM431 214.48h11V219.84h-11zM431 252.00h11V257.36h-11zM431 294.88h11V300.24h-11zM453 128.72h11V134.08h-11zM453 155.52h11V160.88h-11zM453 187.68h11V193.04h-11zM453 268.08h11V278.80h-11zM453 294.88h11V305.60h-11zM453 310.96h11V316.32h-11zM453 321.68h11V327.04h-11zM464 230.56h11V235.92h-11zM464 262.72h11V268.08h-11zM464 289.52h11V294.88h-11zM464 305.60h11V316.32h-11zM475 219.84h11V225.20h-11zM475 241.28h11V246.64h-11zM475 284.16h11V289.52h-11zM475 321.68h11V327.04h-11zM475 343.12h11V348.48h-11zM475 353.84h11V359.20h-11zM486 235.92h11V241.28h-11zM486 300.24h11V305.60h-11zM486 327.04h11V332.40h-11zM486 337.76h11V343.12h-11zM486 353.84h11V359.20h-11zM497 310.96h11V316.32h-11zM497 321.68h11V327.04h-11zM497 348.48h11V353.84h-11zM508 337.76h11V343.12h-11zM519 284.16h11V294.88h-11zM519 310.96h11V316.32h-11zM519 332.40h11V337.76h-11zM530 235.92h11V241.28h-11zM530 268.08h11V278.80h-11zM530 289.52h11V294.88h-11zM541 235.92h11V241.28h-11zM552 262.72h11V268.08h-11zM552 305.60h11V310.96h-11zM563 246.64h12V252.00h-12zM563 262.72h12V268.08h-12zM563 337.76h12V343.12h-12zM575 187.68h11V193.04h-11zM575 209.12h11V214.48h-11zM575 252.00h11V262.72h-11zM575 300.24h11V305.60h-11zM586 235.92h11V241.28h-11zM586 262.72h11V268.08h-11zM586 294.88h11V300.24h-11zM597 268.08h11V273.44h-11zM597 321.68h11V327.04h-11zM597 332.40h11V337.76h-11zM608 252.00h11V257.36h-11zM608 262.72h11V268.08h-11zM608 305.60h11V310.96h-11zM608 353.84h11V359.20h-11zM619 150.16h11V155.52h-11zM619 278.80h11V284.16h-11zM619 327.04h11V332.40h-11zM619 353.84h11V359.20h-11zM619 364.56h11V369.92h-11zM630 289.52h11V294.88h-11zM641 294.88h11V300.24h-11zM641 321.68h11V327.04h-11zM641 332.40h11V337.76h-11zM641 343.12h11V348.48h-11zM652 353.84h11V359.20h-11zM663 182.32h11V187.68h-11zM663 305.60h11V310.96h-11zM663 327.04h11V332.40h-11zM663 348.48h11V353.84h-11zM663 380.64h11V386.00h-11zM674 310.96h11V316.32h-11zM674 343.12h11V348.48h-11zM674 353.84h11V369.92h-11zM685 225.20h11V230.56h-11zM685 300.24h11V305.60h-11zM685 321.68h11V327.04h-11zM685 332.40h11V337.76h-11zM685 343.12h11V348.48h-11zM696 284.16h11V289.52h-11zM696 337.76h11V343.12h-11zM696 353.84h11V359.20h-11zM707 273.44h11V278.80h-11zM707 316.32h11V321.68h-11zM707 337.76h11V348.48h-11zM707 375.28h11V380.64h-11zM718 225.20h11V230.56h-11zM718 289.52h11V294.88h-11zM718 300.24h11V305.60h-11zM718 343.12h11V348.48h-11zM718 375.28h11V380.64h-11zM729 155.52h11V160.88h-11zM729 241.28h11V246.64h-11zM729 289.52h11V294.88h-11zM729 310.96h11V316.32h-11zM729 348.48h11V353.84h-11zM729 369.92h11V375.28h-11zM740 246.64h11V252.00h-11zM740 337.76h11V343.12h-11zM751 294.88h11V300.24h-11zM751 348.48h11V353.84h-11zM762 262.72h11V268.08h-11zM762 284.16h11V289.52h-11zM762 294.88h11V305.60h-11zM762 316.32h11V321.68h-11zM762 327.04h11V332.40h-11zM762 337.76h11V343.12h-11zM773 219.84h11V225.20h-11zM773 268.08h11V273.44h-11zM773 278.80h11V284.16h-11zM784 214.48h11V219.84h-11zM784 241.28h11V246.64h-11zM784 268.08h11V273.44h-11zM784 278.80h11V284.16h-11zM795 268.08h11V273.44h-11zM795 289.52h11V294.88h-11zM795 327.04h11V332.40h-11zM806 257.36h11V262.72h-11zM806 268.08h11V273.44h-11zM806 289.52h11V294.88h-11zM817 300.24h11V305.60h-11zM817 348.48h11V353.84h-11zM817 364.56h11V369.92h-11zM828 246.64h11V252.00h-11zM828 284.16h11V289.52h-11zM828 300.24h11V305.60h-11zM839 278.80h11V284.16h-11zM839 289.52h11V294.88h-11zM839 300.24h11V305.60h-11zM839 321.68h11V327.04h-11zM850 257.36h11V262.72h-11zM850 294.88h11V305.60h-11zM850 321.68h11V327.04h-11zM850 343.12h11V348.48h-11zM861 262.72h11V268.08h-11zM861 284.16h11V294.88h-11zM861 300.24h11V305.60h-11zM861 332.40h11V337.76h-11zM872 230.56h11V235.92h-11zM872 262.72h11V268.08h-11zM872 294.88h11V300.24h-11zM872 305.60h11V310.96h-11zM872 337.76h11V343.12h-11zM883 214.48h11V219.84h-11zM883 294.88h11V310.96h-11zM883 348.48h11V353.84h-11zM894 219.84h11V225.20h-11zM894 235.92h11V241.28h-11zM894 284.16h11V289.52h-11zM894 294.88h11V300.24h-11zM894 343.12h11V348.48h-11zM905 262.72h11V268.08h-11zM905 273.44h11V284.16h-11zM905 294.88h11V305.60h-11zM905 310.96h11V316.32h-11zM905 327.04h11V332.40h-11zM916 262.72h11V268.08h-11zM916 305.60h11V310.96h-11zM916 337.76h11V343.12h-11zM927 273.44h11V284.16h-11zM927 294.88h11V300.24h-11zM927 305.60h11V310.96h-11zM927 348.48h11V353.84h-11zM938 252.00h11V262.72h-11zM938 273.44h11V278.80h-11zM938 294.88h11V300.24h-11zM938 321.68h11V327.04h-11zM949 252.00h11V257.36h-11zM949 289.52h11V294.88h-11zM949 300.24h11V305.60h-11zM949 316.32h11V327.04h-11zM960 230.56h11V235.92h-11zM960 257.36h11V262.72h-11zM971 209.12h11V214.48h-11zM971 273.44h11V278.80h-11z"/>
<path fill="#67b7fa" d="M156 203.76h11V209.12h-11zM167 193.04h11V198.40h-11zM167 203.76h11V209.12h-11zM167 219.84h11V225.20h-11zM178 198.40h11V203.76h-11zM178 219.84h11V225.20h-11zM189 214.48h11V219.84h-11zM189 246.64h11V252.00h-11zM200 198.40h11V203.76h-11zM200 214.48h11V219.84h-11zM200 235.92h11V241.28h-11zM211 160.88h11V166.24h-11zM211 182.32h11V187.68h-11zM211 193.04h11V198.40h-11zM211 209.12h11V214.48h-11zM211 235.92h11V241.28h-11zM222 160.88h11V166.24h-11zM222 209.12h11V214.48h-11zM222 230.56h11V235.92h-11zM233 176.96h11V187.68h-11zM233 193.04h11V198.40h-11zM233 214.48h11V219.84h-11zM233 225.20h11V230.56h-11zM233 235.92h11V241.28h-11zM255 225.20h11V230.56h-11zM255 235.92h11V241.28h-11zM266 209.12h11V219.84h-11zM266 225.20h11V230.56h-11zM277 230.56h11V246.64h-11zM288 160.88h11V166.24h-11zM288 182.32h11V187.68h-11zM288 235.92h11V241.28h-11zM299 225.20h11V230.56h-11zM332 235.92h11V241.28h-11zM343 241.28h11V246.64h-11zM354 219.84h11V225.20h-11zM365 230.56h11V235.92h-11zM376 241.28h11V246.64h-11zM387 230.56h11V235.92h-11zM398 171.60h11V176.96h-11zM409 176.96h11V182.32h-11zM409 246.64h11V252.00h-11zM431 203.76h11V209.12h-11zM431 241.28h11V246.64h-11zM442 230.56h11V235.92h-11zM453 198.40h11V203.76h-11zM453 235.92h11V241.28h-11zM475 246.64h11V252.00h-11zM497 139.44h11V144.80h-11zM497 203.76h11V209.12h-11zM541 150.16h11V160.88h-11zM541 187.68h11V193.04h-11zM541 214.48h11V219.84h-11zM541 225.20h11V230.56h-11zM541 241.28h11V246.64h-11zM552 166.24h11V176.96h-11zM552 241.28h11V246.64h-11zM563 241.28h12V246.64h-12zM575 198.40h11V203.76h-11zM575 230.56h11V235.92h-11zM575 246.64h11V252.00h-11zM586 225.20h11V230.56h-11zM586 246.64h11V252.00h-11zM619 203.76h11V209.12h-11zM619 219.84h11V225.20h-11zM641 225.20h11V230.56h-11zM674 235.92h11V241.28h-11zM685 160.88h11V176.96h-11zM696 219.84h11V225.20h-11zM729 214.48h11V219.84h-11zM740 203.76h11V209.12h-11zM762 230.56h11V235.92h-11zM795 241.28h11V246.64h-11zM806 182.32h11V187.68h-11zM839 219.84h11V225.20h-11zM850 209.12h11V214.48h-11zM850 235.92h11V241.28h-11zM861 182.32h11V187.68h-11zM861 246.64h11V252.00h-11zM872 193.04h11V198.40h-11zM872 203.76h11V209.12h-11zM883 225.20h11V230.56h-11zM894 203.76h11V209.12h-11zM894 214.48h11V219.84h-11zM905 203.76h11V209.12h-11zM927 225.20h11V230.56h-11zM938 209.12h11V214.48h-11zM938 235.92h11V241.28h-11zM949 230.56h11V235.92h-11zM960 241.28h11V246.64h-11zM971 241.28h11V246.64h-11z"/>
<path fill="#72e4fa" d="M156 219.84h11V246.64h-11zM156 252.00h11V262.72h-11zM156 268.08h11V273.44h-11zM156 310.96h11V321.68h-11zM167 198.40h11V203.76h-11zM167 262.72h11V273.44h-11zM167 284.16h11V294.88h-11zM167 310.96h11V321.68h-11zM178 273.44h11V278.80h-11zM189 241.28h11V246.64h-11zM189 289.52h11V294.88h-11zM189 327.04h11V332.40h-11zM200 225.20h11V230.56h-11zM200 262.72h11V273.44h-11zM200 284.16h11V289.52h-11zM200 294.88h11V321.68h-11zM200 359.20h11V364.56h-11zM211 128.72h11V134.08h-11zM211 203.76h11V209.12h-11zM211 225.20h11V235.92h-11zM211 321.68h11V327.04h-11zM211 353.84h11V359.20h-11zM222 134.08h11V139.44h-11zM222 193.04h11V198.40h-11zM222 203.76h11V209.12h-11zM222 214.48h11V219.84h-11zM222 246.64h11V252.00h-11zM222 257.36h11V262.72h-11zM222 305.60h11V310.96h-11zM233 241.28h11V252.00h-11zM233 257.36h11V262.72h-11zM233 284.16h11V289.52h-11zM233 305.60h11V310.96h-11zM244 214.48h11V219.84h-11zM244 230.56h11V235.92h-11zM244 246.64h11V257.36h-11zM244 294.88h11V300.24h-11zM244 310.96h11V316.32h-11zM255 203.76h11V214.48h-11zM255 262.72h11V273.44h-11zM255 284.16h11V289.52h-11zM266 166.24h11V176.96h-11zM266 203.76h11V209.12h-11zM266 268.08h11V273.44h-11zM266 284.16h11V289.52h-11zM266 327.04h11V337.76h-11zM277 166.24h11V182.32h-11zM277 187.68h11V198.40h-11zM277 225.20h11V230.56h-11zM277 294.88h11V316.32h-11zM288 305.60h11V316.32h-11zM288 327.04h11V332.40h-11zM299 278.80h11V284.16h-11zM299 289.52h11V294.88h-11zM299 310.96h11V316.32h-11zM299 353.84h11V364.56h-11zM310 268.08h11V273.44h-11zM310 289.52h11V294.88h-11zM310 300.24h11V305.60h-11zM310 310.96h11V316.32h-11zM310 327.04h11V343.12h-11zM321 268.08h11V273.44h-11zM321 300.24h11V305.60h-11zM321 321.68h11V327.04h-11zM332 284.16h11V289.52h-11zM332 305.60h11V310.96h-11zM332 321.68h11V327.04h-11zM332 343.12h11V353.84h-11zM343 289.52h11V294.88h-11zM343 300.24h11V305.60h-11zM343 316.32h11V321.68h-11zM354 198.40h11V203.76h-11zM354 209.12h11V214.48h-11zM354 316.32h11V321.68h-11zM365 316.32h11V327.04h-11zM387 235.92h11V246.64h-11zM387 268.08h11V273.44h-11zM387 305.60h11V332.40h-11zM398 209.12h11V214.48h-11zM398 268.08h11V273.44h-11zM409 123.36h11V128.72h-11zM409 235.92h11V241.28h-11zM409 252.00h11V257.36h-11zM409 268.08h11V273.44h-11zM409 294.88h11V300.24h-11zM409 332.40h11V337.76h-11zM431 150.16h11V160.88h-11zM431 257.36h11V268.08h-11zM431 273.44h11V278.80h-11zM431 284.16h11V294.88h-11zM431 300.24h11V305.60h-11zM431 316.32h11V327.04h-11zM431 353.84h11V364.56h-11zM442 252.00h11V257.36h-11zM442 289.52h11V294.88h-11zM442 310.96h11V321.68h-11zM453 176.96h11V182.32h-11zM453 327.04h11V332.40h-11zM453 343.12h11V348.48h-11zM453 364.56h11V369.92h-11zM464 235.92h11V241.28h-11zM464 257.36h11V262.72h-11zM464 300.24h11V305.60h-11zM464 348.48h11V353.84h-11zM475 139.44h11V144.80h-11zM475 225.20h11V230.56h-11zM475 235.92h11V241.28h-11zM475 252.00h11V257.36h-11zM475 359.20h11V364.56h-11zM486 310.96h11V316.32h-11zM486 321.68h11V327.04h-11zM486 332.40h11V337.76h-11zM486 348.48h11V353.84h-11zM486 359.20h11V369.92h-11zM497 128.72h11V134.08h-11zM497 305.60h11V310.96h-11zM497 364.56h11V375.28h-11zM508 278.80h11V284.16h-11zM508 327.04h11V332.40h-11zM508 348.48h11V353.84h-11zM508 369.92h11V375.28h-11zM519 166.24h11V176.96h-11zM519 268.08h11V273.44h-11zM519 316.32h11V321.68h-11zM519 359.20h11V364.56h-11zM519 380.64h11V386.00h-11zM530 316.32h11V321.68h-11zM530 353.84h11V359.20h-11zM530 375.28h11V380.64h-11zM541 144.80h11V150.16h-11zM541 160.88h11V166.24h-11zM541 182.32h11V187.68h-11zM541 193.04h11V198.40h-11zM541 257.36h11V262.72h-11zM541 268.08h11V284.16h-11zM541 294.88h11V300.24h-11zM552 273.44h11V278.80h-11zM552 289.52h11V294.88h-11zM552 300.24h11V305.60h-11zM552 321.68h11V327.04h-11zM563 150.16h12V160.88h-12zM563 235.92h12V241.28h-12zM563 268.08h12V273.44h-12zM563 278.80h12V284.16h-12zM563 289.52h12V294.88h-12zM563 305.60h12V310.96h-12zM563 316.32h12V321.68h-12zM563 343.12h12V348.48h-12zM575 193.04h11V198.40h-11zM575 241.28h11V246.64h-11zM575 273.44h11V278.80h-11zM575 284.16h11V289.52h-11zM575 294.88h11V300.24h-11zM575 327.04h11V332.40h-11zM586 284.16h11V289.52h-11zM586 300.24h11V305.60h-11zM586 310.96h11V316.32h-11zM586 321.68h11V327.04h-11zM597 278.80h11V284.16h-11zM597 305.60h11V310.96h-11zM597 359.20h11V364.56h-11zM597 375.28h11V380.64h-11zM608 171.60h11V176.96h-11zM608 257.36h11V262.72h-11zM608 300.24h11V305.60h-11zM608 310.96h11V316.32h-11zM619 118.00h11V121.70h-11zM619 310.96h11V316.32h-11zM619 343.12h11V348.48h-11zM619 375.28h11V380.64h-11zM630 273.44h11V278.80h-11zM630 310.96h11V316.32h-11zM630 321.68h11V327.04h-11zM630 337.76h11V343.12h-11zM641 359.20h11V364.56h-11zM641 375.28h11V380.64h-11zM652 123.36h11V134.08h-11zM652 289.52h11V294.88h-11zM652 300.24h11V305.60h-11zM652 327.04h11V332.40h-11zM652 343.12h11V348.48h-11zM652 359.20h11V364.56h-11zM652 369.92h11V375.28h-11zM663 257.36h11V262.72h-11zM663 300.24h11V305.60h-11zM663 321.68h11V327.04h-11zM663 337.76h11V343.12h-11zM674 316.32h11V321.68h-11zM674 327.04h11V332.40h-11zM674 337.76h11V343.12h-11zM674 375.28h11V380.64h-11zM685 305.60h11V310.96h-11zM685 337.76h11V343.12h-11zM685 348.48h11V353.84h-11zM685 359.20h11V364.56h-11zM685 369.92h11V375.28h-11zM696 155.52h11V166.24h-11zM696 176.96h11V187.68h-11zM696 310.96h11V316.32h-11zM696 348.48h11V353.84h-11zM696 359.20h11V364.56h-11zM696 369.92h11V375.28h-11zM707 294.88h11V300.24h-11zM707 327.04h11V332.40h-11zM718 316.32h11V321.68h-11zM718 337.76h11V343.12h-11zM718 369.92h11V375.28h-11zM729 316.32h11V321.68h-11zM729 343.12h11V348.48h-11zM729 359.20h11V364.56h-11zM740 273.44h11V278.80h-11zM740 289.52h11V294.88h-11zM740 300.24h11V305.60h-11zM740 332.40h11V337.76h-11zM751 273.44h11V278.80h-11zM751 305.60h11V310.96h-11zM751 321.68h11V327.04h-11zM751 332.40h11V337.76h-11zM762 268.08h11V273.44h-11zM762 310.96h11V316.32h-11zM762 332.40h11V337.76h-11zM773 246.64h11V252.00h-11zM773 284.16h11V289.52h-11zM773 294.88h11V300.24h-11zM773 310.96h11V316.32h-11zM773 327.04h11V332.40h-11zM784 273.44h11V278.80h-11zM784 289.52h11V294.88h-11zM784 337.76h11V343.12h-11zM795 305.60h11V310.96h-11zM795 321.68h11V327.04h-11zM795 332.40h11V337.76h-11zM806 262.72h11V268.08h-11zM806 278.80h11V284.16h-11zM806 300.24h11V305.60h-11zM806 316.32h11V321.68h-11zM806 327.04h11V332.40h-11zM806 337.76h11V343.12h-11zM817 235.92h11V241.28h-11zM817 246.64h11V252.00h-11zM817 278.80h11V284.16h-11zM817 321.68h11V327.04h-11zM817 337.76h11V343.12h-11zM828 332.40h11V337.76h-11zM839 235.92h11V246.64h-11zM839 332.40h11V337.76h-11zM850 278.80h11V284.16h-11zM850 305.60h11V310.96h-11zM850 316.32h11V321.68h-11zM850 337.76h11V343.12h-11zM861 193.04h11V198.40h-11zM861 310.96h11V321.68h-11zM861 327.04h11V332.40h-11zM872 273.44h11V278.80h-11zM872 321.68h11V327.04h-11zM872 343.12h11V348.48h-11zM883 310.96h11V316.32h-11zM883 321.68h11V327.04h-11zM894 278.80h11V284.16h-11zM894 327.04h11V332.40h-11zM905 268.08h11V273.44h-11zM905 321.68h11V327.04h-11zM905 332.40h11V337.76h-11zM916 209.12h11V214.48h-11zM916 273.44h11V278.80h-11zM916 289.52h11V294.88h-11zM916 310.96h11V316.32h-11zM916 327.04h11V332.40h-11zM916 343.12h11V348.48h-11zM927 284.16h11V289.52h-11zM927 316.32h11V321.68h-11zM927 332.40h11V337.76h-11zM938 262.72h11V268.08h-11zM938 289.52h11V294.88h-11zM938 310.96h11V316.32h-11zM938 332.40h11V337.76h-11zM949 310.96h11V316.32h-11zM949 327.04h11V332.40h-11zM960 262.72h11V268.08h-11zM971 230.56h11V235.92h-11zM971 262.72h11V268.08h-11zM971 284.16h11V289.52h-11zM971 327.04h11V332.40h-11zM971 337.76h11V353.84h-11z"/>
<path fill="#9dfcf8" d="M156 262.72h11V268.08h-11zM156 294.88h11V305.60h-11zM156 321.68h11V343.12h-11zM156 348.48h11V369.92h-11zM156 380.64h11V399.40h-11zM167 300.24h11V310.96h-11zM167 321.68h11V353.84h-11zM167 359.20h11V375.28h-11zM167 380.64h11V386.00h-11zM178 310.96h11V343.12h-11zM178 353.84h11V364.56h-11zM178 369.92h11V375.28h-11zM178 386.00h11V399.40h-11zM189 252.00h11V257.36h-11zM189 273.44h11V284.16h-11zM189 305.60h11V327.04h-11zM189 332.40h11V348.48h-11zM189 353.84h11V364.56h-11zM189 369.92h11V375.28h-11zM189 386.00h11V399.40h-11zM200 230.56h11V235.92h-11zM200 321.68h11V337.76h-11zM200 343.12h11V353.84h-11zM200 364.56h11V375.28h-11zM200 380.64h11V386.00h-11zM211 219.84h11V225.20h-11zM211 262.72h11V268.08h-11zM211 273.44h11V284.16h-11zM211 294.88h11V300.24h-11zM211 305.60h11V310.96h-11zM211 316.32h11V321.68h-11zM211 327.04h11V343.12h-11zM211 348.48h11V353.84h-11zM211 359.20h11V369.92h-11zM211 380.64h11V399.40h-11zM222 252.00h11V257.36h-11zM222 273.44h11V289.52h-11zM222 294.88h11V305.60h-11zM222 310.96h11V332.40h-11zM222 337.76h11V348.48h-11zM222 353.84h11V369.92h-11zM222 375.28h11V386.00h-11zM233 289.52h11V294.88h-11zM233 310.96h11V332.40h-11zM233 353.84h11V364.56h-11zM233 369.92h11V380.64h-11zM233 386.00h11V399.40h-11zM244 262.72h11V268.08h-11zM244 284.16h11V294.88h-11zM244 300.24h11V310.96h-11zM244 316.32h11V321.68h-11zM244 332.40h11V348.48h-11zM244 353.84h11V369.92h-11zM244 380.64h11V386.00h-11zM255 252.00h11V257.36h-11zM255 273.44h11V278.80h-11zM255 294.88h11V310.96h-11zM255 316.32h11V327.04h-11zM255 337.76h11V353.84h-11zM255 359.20h11V375.28h-11zM255 380.64h11V399.40h-11zM266 246.64h11V257.36h-11zM266 262.72h11V268.08h-11zM266 278.80h11V284.16h-11zM266 294.88h11V327.04h-11zM266 337.76h11V359.20h-11zM266 364.56h11V369.92h-11zM266 375.28h11V380.64h-11zM266 386.00h11V399.40h-11zM277 182.32h11V187.68h-11zM277 273.44h11V289.52h-11zM277 316.32h11V332.40h-11zM277 337.76h11V343.12h-11zM277 353.84h11V359.20h-11zM277 364.56h11V375.28h-11zM277 386.00h11V399.40h-11zM288 193.04h11V198.40h-11zM288 241.28h11V246.64h-11zM288 252.00h11V289.52h-11zM288 321.68h11V327.04h-11zM288 332.40h11V337.76h-11zM288 343.12h11V359.20h-11zM288 364.56h11V375.28h-11zM288 380.64h11V399.40h-11zM299 284.16h11V289.52h-11zM299 294.88h11V300.24h-11zM299 316.32h11V321.68h-11zM299 332.40h11V343.12h-11zM299 348.48h11V353.84h-11zM299 364.56h11V369.92h-11zM299 375.28h11V386.00h-11zM310 278.80h11V284.16h-11zM310 305.60h11V310.96h-11zM310 316.32h11V327.04h-11zM310 353.84h11V375.28h-11zM310 380.64h11V399.40h-11zM321 305.60h11V310.96h-11zM321 332.40h11V343.12h-11zM321 348.48h11V359.20h-11zM321 375.28h11V399.40h-11zM332 289.52h11V294.88h-11zM332 310.96h11V316.32h-11zM332 327.04h11V343.12h-11zM332 353.84h11V364.56h-11zM332 369.92h11V386.00h-11zM343 160.88h11V166.24h-11zM343 310.96h11V316.32h-11zM343 327.04h11V343.12h-11zM343 348.48h11V359.20h-11zM343 369.92h11V399.40h-11zM354 262.72h11V273.44h-11zM354 294.88h11V300.24h-11zM354 327.04h11V343.12h-11zM354 369.92h11V375.28h-11zM354 380.64h11V386.00h-11zM365 284.16h11V294.88h-11zM365 300.24h11V310.96h-11zM365 327.04h11V343.12h-11zM365 348.48h11V364.56h-11zM365 369.92h11V380.64h-11zM365 386.00h11V399.40h-11zM376 310.96h11V321.68h-11zM376 337.76h11V348.48h-11zM376 353.84h11V375.28h-11zM376 380.64h11V399.40h-11zM387 294.88h11V305.60h-11zM387 337.76h11V353.84h-11zM387 359.20h11V375.28h-11zM387 380.64h11V399.40h-11zM398 257.36h11V268.08h-11zM398 294.88h11V305.60h-11zM398 310.96h11V321.68h-11zM398 337.76h11V343.12h-11zM398 353.84h11V364.56h-11zM398 369.92h11V380.64h-11zM398 386.00h11V399.40h-11zM409 182.32h11V187.68h-11zM409 203.76h11V209.12h-11zM409 241.28h11V246.64h-11zM409 262.72h11V268.08h-11zM409 289.52h11V294.88h-11zM409 300.24h11V321.68h-11zM409 337.76h11V348.48h-11zM409 353.84h11V369.92h-11zM409 375.28h11V399.40h-11zM431 268.08h11V273.44h-11zM431 278.80h11V284.16h-11zM431 327.04h11V332.40h-11zM431 337.76h11V353.84h-11zM431 364.56h11V386.00h-11zM431 399.40h11V412.80h-11zM442 268.08h11V289.52h-11zM442 300.24h11V310.96h-11zM442 327.04h11V337.76h-11zM442 343.12h11V353.84h-11zM442 364.56h11V380.64h-11zM442 386.00h11V399.40h-11zM453 203.76h11V214.48h-11zM453 289.52h11V294.88h-11zM453 305.60h11V310.96h-11zM453 316.32h11V321.68h-11zM453 332.40h11V343.12h-11zM453 348.48h11V364.56h-11zM453 369.92h11V386.00h-11zM464 160.88h11V171.60h-11zM464 268.08h11V278.80h-11zM464 316.32h11V332.40h-11zM464 337.76h11V348.48h-11zM464 353.84h11V364.56h-11zM464 375.28h11V386.00h-11zM464 399.40h11V412.80h-11zM475 214.48h11V219.84h-11zM475 230.56h11V235.92h-11zM475 257.36h11V262.72h-11zM475 278.80h11V284.16h-11zM475 289.52h11V294.88h-11zM475 300.24h11V305.60h-11zM475 310.96h11V316.32h-11zM475 327.04h11V343.12h-11zM475 348.48h11V353.84h-11zM475 364.56h11V386.00h-11zM475 412.80h11V426.20h-11zM475 453.00h11V466.40h-11zM486 316.32h11V321.68h-11zM486 375.28h11V380.64h-11zM486 439.60h11V453.00h-11zM497 386.00h11V399.40h-11zM497 412.80h11V426.20h-11zM508 321.68h11V327.04h-11zM508 332.40h11V337.76h-11zM508 364.56h11V369.92h-11zM508 375.28h11V386.00h-11zM508 412.80h11V426.20h-11zM508 439.60h11V453.00h-11zM519 300.24h11V305.60h-11zM519 327.04h11V332.40h-11zM519 343.12h11V359.20h-11zM519 364.56h11V380.64h-11zM530 262.72h11V268.08h-11zM530 327.04h11V337.76h-11zM530 343.12h11V353.84h-11zM530 359.20h11V375.28h-11zM530 380.64h11V386.00h-11zM530 399.40h11V426.20h-11zM541 246.64h11V257.36h-11zM541 262.72h11V268.08h-11zM541 284.16h11V294.88h-11zM541 300.24h11V310.96h-11zM541 316.32h11V343.12h-11zM541 353.84h11V359.20h-11zM541 369.92h11V380.64h-11zM541 412.80h11V426.20h-11zM552 327.04h11V332.40h-11zM552 337.76h11V353.84h-11zM552 359.20h11V369.92h-11zM552 375.28h11V386.00h-11zM552 399.40h11V412.80h-11zM552 426.20h11V439.60h-11zM563 284.16h12V289.52h-12zM563 294.88h12V300.24h-12zM563 310.96h12V316.32h-12zM563 327.04h12V332.40h-12zM563 348.48h12V359.20h-12zM563 364.56h12V386.00h-12zM575 278.80h11V284.16h-11zM575 289.52h11V294.88h-11zM575 305.60h11V310.96h-11zM575 316.32h11V327.04h-11zM575 332.40h11V348.48h-11zM575 359.20h11V369.92h-11zM575 375.28h11V386.00h-11zM575 399.40h11V412.80h-11zM586 268.08h11V273.44h-11zM586 289.52h11V294.88h-11zM586 305.60h11V310.96h-11zM586 327.04h11V348.48h-11zM586 353.84h11V369.92h-11zM586 380.64h11V386.00h-11zM586 426.20h11V439.60h-11zM597 230.56h11V235.92h-11zM597 300.24h11V305.60h-11zM597 310.96h11V316.32h-11zM597 348.48h11V359.20h-11zM597 364.56h11V375.28h-11zM597 380.64h11V386.00h-11zM597 412.80h11V426.20h-11zM608 316.32h11V327.04h-11zM608 332.40h11V337.76h-11zM608 343.12h11V348.48h-11zM608 375.28h11V399.40h-11zM619 171.60h11V182.32h-11zM619 289.52h11V294.88h-11zM619 316.32h11V321.68h-11zM619 337.76h11V343.12h-11zM619 369.92h11V375.28h-11zM619 380.64h11V386.00h-11zM619 412.80h11V426.20h-11zM630 176.96h11V182.32h-11zM630 316.32h11V321.68h-11zM630 332.40h11V337.76h-11zM630 348.48h11V359.20h-11zM630 369.92h11V386.00h-11zM630 399.40h11V426.20h-11zM641 289.52h11V294.88h-11zM641 316.32h11V321.68h-11zM641 353.84h11V359.20h-11zM641 364.56h11V375.28h-11zM641 380.64h11V399.40h-11zM641 412.80h11V439.60h-11zM652 316.32h11V327.04h-11zM652 332.40h11V343.12h-11zM652 348.48h11V353.84h-11zM652 364.56h11V369.92h-11zM652 375.28h11V386.00h-11zM652 399.40h11V412.80h-11zM663 155.52h11V166.24h-11zM663 176.96h11V182.32h-11zM663 343.12h11V348.48h-11zM663 364.56h11V375.28h-11zM663 386.00h11V399.40h-11zM663 412.80h11V439.60h-11zM674 332.40h11V337.76h-11zM674 369.92h11V375.28h-11zM674 380.64h11V386.00h-11zM685 364.56h11V369.92h-11zM685 375.28h11V399.40h-11zM696 166.24h11V171.60h-11zM696 214.48h11V219.84h-11zM696 305.60h11V310.96h-11zM696 364.56h11V369.92h-11zM696 375.28h11V412.80h-11zM707 155.52h11V160.88h-11zM707 364.56h11V375.28h-11zM707 412.80h11V426.20h-11zM707 439.60h11V453.00h-11zM718 348.48h11V353.84h-11zM718 359.20h11V369.92h-11zM718 380.64h11V399.40h-11zM729 160.88h11V166.24h-11zM729 225.20h11V230.56h-11zM729 337.76h11V343.12h-11zM729 364.56h11V369.92h-11zM729 375.28h11V380.64h-11zM729 386.00h11V439.60h-11zM740 294.88h11V300.24h-11zM740 305.60h11V310.96h-11zM740 348.48h11V353.84h-11zM740 359.20h11V364.56h-11zM740 375.28h11V380.64h-11zM751 241.28h11V246.64h-11zM751 300.24h11V305.60h-11zM751 316.32h11V321.68h-11zM751 327.04h11V332.40h-11zM751 337.76h11V343.12h-11zM751 353.84h11V359.20h-11zM751 364.56h11V375.28h-11zM751 380.64h11V386.00h-11zM751 399.40h11V412.80h-11zM762 343.12h11V348.48h-11zM762 353.84h11V359.20h-11zM762 369.92h11V380.64h-11zM762 412.80h11V426.20h-11zM773 289.52h11V294.88h-11zM773 300.24h11V310.96h-11zM773 321.68h11V327.04h-11zM773 332.40h11V337.76h-11zM773 343.12h11V353.84h-11zM773 359.20h11V375.28h-11zM773 380.64h11V386.00h-11zM773 412.80h11V426.20h-11zM784 235.92h11V241.28h-11zM784 284.16h11V289.52h-11zM784 300.24h11V305.60h-11zM784 310.96h11V321.68h-11zM784 327.04h11V337.76h-11zM784 343.12h11V348.48h-11zM784 353.84h11V364.56h-11zM784 369.92h11V380.64h-11zM784 386.00h11V412.80h-11zM795 300.24h11V305.60h-11zM795 310.96h11V321.68h-11zM795 337.76h11V348.48h-11zM795 353.84h11V369.92h-11zM795 375.28h11V386.00h-11zM795 412.80h11V426.20h-11zM806 273.44h11V278.80h-11zM806 294.88h11V300.24h-11zM806 305.60h11V316.32h-11zM806 343.12h11V353.84h-11zM806 359.20h11V369.92h-11zM806 375.28h11V386.00h-11zM817 327.04h11V337.76h-11zM817 343.12h11V348.48h-11zM817 353.84h11V359.20h-11zM817 369.92h11V386.00h-11zM817 399.40h11V412.80h-11zM828 262.72h11V268.08h-11zM828 327.04h11V332.40h-11zM828 337.76h11V364.56h-11zM828 369.92h11V380.64h-11zM839 343.12h11V369.92h-11zM839 375.28h11V399.40h-11zM850 327.04h11V337.76h-11zM850 348.48h11V364.56h-11zM850 369.92h11V386.00h-11zM850 399.40h11V426.20h-11zM861 321.68h11V327.04h-11zM861 337.76h11V386.00h-11zM861 399.40h11V412.80h-11zM872 316.32h11V321.68h-11zM872 327.04h11V337.76h-11zM872 348.48h11V386.00h-11zM872 399.40h11V412.80h-11zM883 278.80h11V289.52h-11zM883 316.32h11V321.68h-11zM883 327.04h11V337.76h-11zM883 343.12h11V348.48h-11zM883 353.84h11V369.92h-11zM883 375.28h11V399.40h-11zM894 273.44h11V278.80h-11zM894 289.52h11V294.88h-11zM894 305.60h11V310.96h-11zM894 321.68h11V327.04h-11zM894 332.40h11V343.12h-11zM894 348.48h11V353.84h-11zM894 359.20h11V386.00h-11zM894 399.40h11V412.80h-11zM905 337.76h11V386.00h-11zM916 316.32h11V327.04h-11zM916 332.40h11V337.76h-11zM916 348.48h11V359.20h-11zM916 364.56h11V380.64h-11zM916 386.00h11V399.40h-11zM927 310.96h11V316.32h-11zM927 321.68h11V332.40h-11zM927 337.76h11V348.48h-11zM927 353.84h11V369.92h-11zM927 380.64h11V386.00h-11zM927 399.40h11V426.20h-11zM938 305.60h11V310.96h-11zM938 316.32h11V321.68h-11zM938 327.04h11V332.40h-11zM938 337.76h11V386.00h-11zM938 399.40h11V412.80h-11zM949 305.60h11V310.96h-11zM949 332.40h11V353.84h-11zM949 359.20h11V369.92h-11zM949 375.28h11V386.00h-11zM960 273.44h11V278.80h-11zM960 300.24h11V310.96h-11zM960 316.32h11V332.40h-11zM960 337.76h11V343.12h-11zM960 348.48h11V359.20h-11zM960 364.56h11V369.92h-11zM960 375.28h11V386.00h-11zM971 289.52h11V294.88h-11zM971 300.24h11V327.04h-11zM971 353.84h11V364.56h-11zM971 369.92h11V386.00h-11zM971 399.40h11V412.80h-11z"/>
<path fill="#befef2" d="M156 278.80h11V289.52h-11zM156 399.40h11V439.60h-11zM156 466.40h11V493.20h-11zM156 533.40h11V546.80h-11zM167 412.80h11V426.20h-11zM167 439.60h11V493.20h-11zM178 343.12h11V353.84h-11zM178 364.56h11V369.92h-11zM178 380.64h11V386.00h-11zM178 399.40h11V426.20h-11zM178 439.60h11V453.00h-11zM178 466.40h11V479.80h-11zM178 493.20h11V506.60h-11zM178 520.00h11V533.40h-11zM178 573.60h11V587.00h-11zM189 375.28h11V386.00h-11zM189 399.40h11V412.80h-11zM189 426.20h11V453.00h-11zM189 479.80h11V520.00h-11zM189 560.20h11V573.60h-11zM200 337.76h11V343.12h-11zM200 375.28h11V380.64h-11zM200 399.40h11V426.20h-11zM200 439.60h11V466.40h-11zM200 479.80h11V493.20h-11zM200 560.20h11V587.00h-11zM211 268.08h11V273.44h-11zM211 300.24h11V305.60h-11zM211 310.96h11V316.32h-11zM211 369.92h11V380.64h-11zM211 399.40h11V412.80h-11zM211 426.20h11V479.80h-11zM211 493.20h11V506.60h-11zM211 533.40h11V560.20h-11zM222 332.40h11V337.76h-11zM222 348.48h11V353.84h-11zM222 369.92h11V375.28h-11zM222 399.40h11V412.80h-11zM222 426.20h11V453.00h-11zM222 466.40h11V506.60h-11zM222 533.40h11V560.20h-11zM222 573.60h11V587.00h-11zM233 364.56h11V369.92h-11zM233 399.40h11V453.00h-11zM233 479.80h11V506.60h-11zM233 520.00h11V546.80h-11zM233 560.20h11V573.60h-11zM244 235.92h11V246.64h-11zM244 369.92h11V380.64h-11zM244 399.40h11V426.20h-11zM244 439.60h11V506.60h-11zM244 520.00h11V533.40h-11zM255 155.52h11V160.88h-11zM255 257.36h11V262.72h-11zM255 327.04h11V337.76h-11zM255 353.84h11V359.20h-11zM255 375.28h11V380.64h-11zM255 399.40h11V466.40h-11zM255 479.80h11V520.00h-11zM255 560.20h11V573.60h-11zM266 134.08h11V139.44h-11zM266 399.40h11V453.00h-11zM266 466.40h11V506.60h-11zM266 546.80h11V560.20h-11zM277 262.72h11V268.08h-11zM277 289.52h11V294.88h-11zM277 348.48h11V353.84h-11zM277 375.28h11V386.00h-11zM277 399.40h11V439.60h-11zM277 453.00h11V466.40h-11zM277 479.80h11V493.20h-11zM288 337.76h11V343.12h-11zM288 359.20h11V364.56h-11zM288 375.28h11V380.64h-11zM288 412.80h11V506.60h-11zM288 640.60h11V654.00h-11zM299 327.04h11V332.40h-11zM299 343.12h11V348.48h-11zM299 369.92h11V375.28h-11zM299 399.40h11V520.00h-11zM299 533.40h11V546.80h-11zM299 613.80h11V627.20h-11zM299 640.60h11V654.00h-11zM310 375.28h11V380.64h-11zM310 399.40h11V453.00h-11zM310 466.40h11V479.80h-11zM310 506.60h11V520.00h-11zM310 533.40h11V546.80h-11zM310 627.20h11V654.00h-11zM321 343.12h11V348.48h-11zM321 399.40h11V453.00h-11zM321 466.40h11V520.00h-11zM321 573.60h11V587.00h-11zM321 627.20h11V640.60h-11zM332 155.52h11V160.88h-11zM332 166.24h11V182.32h-11zM332 364.56h11V369.92h-11zM332 399.40h11V426.20h-11zM332 439.60h11V453.00h-11zM332 466.40h11V506.60h-11zM332 546.80h11V573.60h-11zM332 600.40h11V613.80h-11zM343 144.80h11V150.16h-11zM343 155.52h11V160.88h-11zM343 214.48h11V219.84h-11zM343 359.20h11V369.92h-11zM343 399.40h11V493.20h-11zM343 533.40h11V560.20h-11zM343 627.20h11V640.60h-11zM354 160.88h11V171.60h-11zM354 399.40h11V439.60h-11zM354 453.00h11V479.80h-11zM354 493.20h11V506.60h-11zM354 560.20h11V573.60h-11zM354 600.40h11V613.80h-11zM365 171.60h11V176.96h-11zM365 364.56h11V369.92h-11zM365 399.40h11V453.00h-11zM365 466.40h11V479.80h-11zM365 493.20h11V506.60h-11zM365 533.40h11V546.80h-11zM376 327.04h11V332.40h-11zM376 375.28h11V380.64h-11zM376 399.40h11V412.80h-11zM376 426.20h11V506.60h-11zM376 520.00h11V533.40h-11zM376 546.80h11V560.20h-11zM376 587.00h11V600.40h-11zM387 399.40h11V426.20h-11zM387 439.60h11V453.00h-11zM387 533.40h11V546.80h-11zM398 305.60h11V310.96h-11zM398 364.56h11V369.92h-11zM398 380.64h11V386.00h-11zM398 399.40h11V439.60h-11zM398 493.20h11V520.00h-11zM398 560.20h11V573.60h-11zM398 587.00h11V600.40h-11zM409 134.08h11V144.80h-11zM409 150.16h11V155.52h-11zM409 348.48h11V353.84h-11zM409 369.92h11V375.28h-11zM409 399.40h11V439.60h-11zM409 479.80h11V493.20h-11zM431 128.72h11V134.08h-11zM431 144.80h11V150.16h-11zM431 412.80h11V426.20h-11zM431 439.60h11V520.00h-11zM431 587.00h11V600.40h-11zM442 128.72h11V134.08h-11zM442 139.44h11V155.52h-11zM442 193.04h11V203.76h-11zM442 337.76h11V343.12h-11zM442 426.20h11V439.60h-11zM442 466.40h11V493.20h-11zM442 506.60h11V520.00h-11zM442 533.40h11V546.80h-11zM442 613.80h11V627.20h-11zM453 139.44h11V155.52h-11zM453 241.28h11V246.64h-11zM453 278.80h11V284.16h-11zM453 412.80h11V426.20h-11zM453 439.60h11V466.40h-11zM453 493.20h11V506.60h-11zM453 613.80h11V627.20h-11zM464 144.80h11V155.52h-11zM464 364.56h11V369.92h-11zM464 426.20h11V439.60h-11zM464 479.80h11V533.40h-11zM475 262.72h11V268.08h-11zM475 294.88h11V300.24h-11zM475 305.60h11V310.96h-11zM475 316.32h11V321.68h-11zM475 506.60h11V520.00h-11zM475 546.80h11V560.20h-11zM475 600.40h11V613.80h-11zM486 479.80h11V493.20h-11zM486 520.00h11V533.40h-11zM497 166.24h11V176.96h-11zM497 198.40h11V203.76h-11zM497 453.00h11V479.80h-11zM497 493.20h11V506.60h-11zM497 520.00h11V533.40h-11zM508 128.72h11V134.08h-11zM508 139.44h11V144.80h-11zM508 453.00h11V479.80h-11zM508 520.00h11V546.80h-11zM508 587.00h11V600.40h-11zM508 613.80h11V627.20h-11zM519 426.20h11V439.60h-11zM519 479.80h11V493.20h-11zM519 506.60h11V520.00h-11zM530 466.40h11V479.80h-11zM530 493.20h11V506.60h-11zM530 546.80h11V560.20h-11zM530 640.60h11V654.00h-11zM541 348.48h11V353.84h-11zM541 364.56h11V369.92h-11zM541 380.64h11V386.00h-11zM541 493.20h11V506.60h-11zM541 533.40h11V560.20h-11zM552 353.84h11V359.20h-11zM552 466.40h11V493.20h-11zM552 520.00h11V546.80h-11zM552 613.80h11V627.20h-11zM563 332.40h12V337.76h-12zM563 359.20h12V364.56h-12zM563 439.60h12V453.00h-12zM563 493.20h12V506.60h-12zM563 520.00h12V533.40h-12zM575 348.48h11V359.20h-11zM575 369.92h11V375.28h-11zM575 493.20h11V520.00h-11zM575 573.60h11V587.00h-11zM575 627.20h11V654.00h-11zM586 118.00h11V121.70h-11zM586 348.48h11V353.84h-11zM586 369.92h11V380.64h-11zM586 439.60h11V453.00h-11zM586 466.40h11V506.60h-11zM586 520.00h11V533.40h-11zM586 546.80h11V560.20h-11zM597 453.00h11V466.40h-11zM597 479.80h11V493.20h-11zM597 533.40h11V573.60h-11zM597 613.80h11V627.20h-11zM608 479.80h11V520.00h-11zM608 533.40h11V546.80h-11zM608 587.00h11V600.40h-11zM608 627.20h11V640.60h-11zM619 399.40h11V412.80h-11zM619 439.60h11V466.40h-11zM619 479.80h11V493.20h-11zM619 506.60h11V520.00h-11zM619 587.00h11V627.20h-11zM630 118.00h11V128.72h-11zM630 166.24h11V176.96h-11zM630 343.12h11V348.48h-11zM630 364.56h11V369.92h-11zM630 439.60h11V453.00h-11zM630 493.20h11V533.40h-11zM630 573.60h11V587.00h-11zM630 600.40h11V613.80h-11zM641 118.00h11V123.36h-11zM641 268.08h11V273.44h-11zM641 300.24h11V305.60h-11zM641 453.00h11V466.40h-11zM641 533.40h11V546.80h-11zM641 560.20h11V573.60h-11zM652 439.60h11V506.60h-11zM652 520.00h11V533.40h-11zM663 453.00h11V493.20h-11zM663 506.60h11V546.80h-11zM663 613.80h11V640.60h-11zM674 466.40h11V479.80h-11zM674 493.20h11V533.40h-11zM674 573.60h11V587.00h-11zM685 412.80h11V426.20h-11zM685 493.20h11V506.60h-11zM685 573.60h11V600.40h-11zM696 426.20h11V533.40h-11zM696 587.00h11V600.40h-11zM707 453.00h11V479.80h-11zM707 493.20h11V533.40h-11zM707 573.60h11V587.00h-11zM707 613.80h11V627.20h-11zM718 353.84h11V359.20h-11zM718 466.40h11V520.00h-11zM718 533.40h11V560.20h-11zM729 230.56h11V235.92h-11zM729 327.04h11V332.40h-11zM729 380.64h11V386.00h-11zM729 453.00h11V506.60h-11zM729 520.00h11V546.80h-11zM729 587.00h11V600.40h-11zM740 316.32h11V321.68h-11zM740 353.84h11V359.20h-11zM740 364.56h11V369.92h-11zM740 439.60h11V479.80h-11zM740 493.20h11V520.00h-11zM740 546.80h11V560.20h-11zM740 600.40h11V627.20h-11zM751 359.20h11V364.56h-11zM751 375.28h11V380.64h-11zM751 453.00h11V479.80h-11zM751 493.20h11V520.00h-11zM762 273.44h11V278.80h-11zM762 289.52h11V294.88h-11zM762 380.64h11V386.00h-11zM762 426.20h11V439.60h-11zM762 466.40h11V546.80h-11zM762 560.20h11V573.60h-11zM762 587.00h11V600.40h-11zM773 273.44h11V278.80h-11zM773 353.84h11V359.20h-11zM773 466.40h11V493.20h-11zM773 533.40h11V546.80h-11zM773 600.40h11V613.80h-11zM773 627.20h11V640.60h-11zM784 321.68h11V327.04h-11zM784 348.48h11V353.84h-11zM784 453.00h11V466.40h-11zM784 479.80h11V493.20h-11zM784 546.80h11V560.20h-11zM795 453.00h11V479.80h-11zM795 493.20h11V506.60h-11zM795 546.80h11V560.20h-11zM806 353.84h11V359.20h-11zM806 369.92h11V375.28h-11zM806 453.00h11V466.40h-11zM806 479.80h11V506.60h-11zM806 520.00h11V546.80h-11zM806 613.80h11V627.20h-11zM817 426.20h11V479.80h-11zM817 506.60h11V520.00h-11zM817 533.40h11V546.80h-11zM817 613.80h11V627.20h-11zM828 305.60h11V316.32h-11zM828 439.60h11V453.00h-11zM828 466.40h11V506.60h-11zM828 546.80h11V560.20h-11zM839 439.60h11V453.00h-11zM839 493.20h11V506.60h-11zM839 520.00h11V560.20h-11zM850 123.36h11V128.72h-11zM850 364.56h11V369.92h-11zM850 439.60h11V453.00h-11zM850 466.40h11V493.20h-11zM850 506.60h11V533.40h-11zM850 587.00h11V600.40h-11zM861 426.20h11V439.60h-11zM861 493.20h11V546.80h-11zM861 587.00h11V600.40h-11zM872 426.20h11V453.00h-11zM872 479.80h11V493.20h-11zM872 546.80h11V560.20h-11zM872 573.60h11V587.00h-11zM883 369.92h11V375.28h-11zM883 412.80h11V520.00h-11zM883 533.40h11V546.80h-11zM883 560.20h11V573.60h-11zM894 118.00h11V128.72h-11zM894 353.84h11V359.20h-11zM894 453.00h11V493.20h-11zM894 506.60h11V520.00h-11zM894 533.40h11V546.80h-11zM905 123.36h11V128.72h-11zM905 426.20h11V453.00h-11zM905 479.80h11V506.60h-11zM905 520.00h11V533.40h-11zM905 560.20h11V573.60h-11zM905 627.20h11V654.00h-11zM916 294.88h11V300.24h-11zM916 359.20h11V364.56h-11zM916 380.64h11V386.00h-11zM916 399.40h11V412.80h-11zM916 439.60h11V453.00h-11zM916 466.40h11V506.60h-11zM916 520.00h11V533.40h-11zM927 369.92h11V380.64h-11zM927 426.20h11V466.40h-11zM927 479.80h11V546.80h-11zM927 627.20h11V640.60h-11zM938 453.00h11V466.40h-11zM938 479.80h11V493.20h-11zM938 506.60h11V520.00h-11zM938 533.40h11V546.80h-11zM938 640.60h11V654.00h-11zM949 353.84h11V359.20h-11zM949 426.20h11V479.80h-11zM949 506.60h11V520.00h-11zM949 546.80h11V560.20h-11zM949 600.40h11V613.80h-11zM949 627.20h11V640.60h-11zM960 294.88h11V300.24h-11zM960 332.40h11V337.76h-11zM960 412.80h11V426.20h-11zM960 439.60h11V479.80h-11zM960 493.20h11V506.60h-11zM971 294.88h11V300.24h-11zM971 364.56h11V369.92h-11zM971 453.00h11V466.40h-11zM971 479.80h11V493.20h-11zM971 506.60h11V520.00h-11zM971 546.80h11V560.20h-11zM971 587.00h11V600.40h-11zM971 627.20h11V640.60h-11z"/>
<path fill="#aefdf6" d="M156 305.60h11V310.96h-11zM156 343.12h11V348.48h-11zM156 369.92h11V380.64h-11zM167 353.84h11V359.20h-11zM167 375.28h11V380.64h-11zM167 386.00h11V412.80h-11zM178 294.88h11V300.24h-11zM178 375.28h11V380.64h-11zM178 426.20h11V439.60h-11zM189 348.48h11V353.84h-11zM189 364.56h11V369.92h-11zM200 386.00h11V399.40h-11zM200 426.20h11V439.60h-11zM211 343.12h11V348.48h-11zM211 412.80h11V426.20h-11zM222 386.00h11V399.40h-11zM222 412.80h11V426.20h-11zM233 144.80h11V150.16h-11zM233 380.64h11V386.00h-11zM244 278.80h11V284.16h-11zM244 321.68h11V327.04h-11zM244 348.48h11V353.84h-11zM244 386.00h11V399.40h-11zM244 426.20h11V439.60h-11zM255 310.96h11V316.32h-11zM266 369.92h11V375.28h-11zM266 380.64h11V386.00h-11zM277 150.16h11V155.52h-11zM277 268.08h11V273.44h-11zM277 332.40h11V337.76h-11zM277 343.12h11V348.48h-11zM277 359.20h11V364.56h-11zM288 300.24h11V305.60h-11zM288 316.32h11V321.68h-11zM288 399.40h11V412.80h-11zM299 300.24h11V305.60h-11zM321 359.20h11V375.28h-11zM332 160.88h11V166.24h-11zM332 386.00h11V399.40h-11zM332 426.20h11V439.60h-11zM343 150.16h11V155.52h-11zM354 171.60h11V176.96h-11zM354 375.28h11V380.64h-11zM354 386.00h11V399.40h-11zM365 380.64h11V386.00h-11zM376 321.68h11V327.04h-11zM376 348.48h11V353.84h-11zM376 412.80h11V426.20h-11zM387 353.84h11V359.20h-11zM387 375.28h11V380.64h-11zM387 426.20h11V439.60h-11zM398 321.68h11V327.04h-11zM398 343.12h11V353.84h-11zM409 128.72h11V134.08h-11zM409 144.80h11V150.16h-11zM431 332.40h11V337.76h-11zM431 426.20h11V439.60h-11zM442 134.08h11V139.44h-11zM442 321.68h11V327.04h-11zM442 353.84h11V364.56h-11zM442 380.64h11V386.00h-11zM442 399.40h11V426.20h-11zM442 439.60h11V466.40h-11zM453 134.08h11V139.44h-11zM453 399.40h11V412.80h-11zM453 426.20h11V439.60h-11zM464 123.36h11V128.72h-11zM464 294.88h11V300.24h-11zM464 369.92h11V375.28h-11zM464 412.80h11V426.20h-11zM464 439.60h11V479.80h-11zM475 399.40h11V412.80h-11zM475 426.20h11V453.00h-11zM475 466.40h11V493.20h-11zM486 399.40h11V439.60h-11zM486 453.00h11V479.80h-11zM497 160.88h11V166.24h-11zM497 176.96h11V193.04h-11zM497 399.40h11V412.80h-11zM497 426.20h11V453.00h-11zM508 134.08h11V139.44h-11zM508 399.40h11V412.80h-11zM508 426.20h11V439.60h-11zM508 479.80h11V493.20h-11zM519 399.40h11V426.20h-11zM519 439.60h11V479.80h-11zM530 310.96h11V316.32h-11zM530 426.20h11V439.60h-11zM530 453.00h11V466.40h-11zM541 343.12h11V348.48h-11zM541 359.20h11V364.56h-11zM541 399.40h11V412.80h-11zM541 426.20h11V493.20h-11zM552 118.00h11V121.70h-11zM552 369.92h11V375.28h-11zM552 412.80h11V426.20h-11zM552 439.60h11V466.40h-11zM563 399.40h12V439.60h-12zM563 453.00h12V493.20h-12zM575 412.80h11V479.80h-11zM586 399.40h11V426.20h-11zM586 453.00h11V466.40h-11zM597 337.76h11V343.12h-11zM597 399.40h11V412.80h-11zM597 426.20h11V453.00h-11zM608 118.00h11V121.70h-11zM608 327.04h11V332.40h-11zM608 348.48h11V353.84h-11zM608 399.40h11V479.80h-11zM619 348.48h11V353.84h-11zM619 426.20h11V439.60h-11zM630 128.72h11V134.08h-11zM630 359.20h11V364.56h-11zM630 426.20h11V439.60h-11zM630 453.00h11V466.40h-11zM641 327.04h11V332.40h-11zM641 399.40h11V412.80h-11zM641 439.60h11V453.00h-11zM641 466.40h11V479.80h-11zM652 412.80h11V439.60h-11zM663 166.24h11V176.96h-11zM663 399.40h11V412.80h-11zM663 439.60h11V453.00h-11zM674 399.40h11V466.40h-11zM685 399.40h11V412.80h-11zM685 426.20h11V479.80h-11zM696 412.80h11V426.20h-11zM707 380.64h11V386.00h-11zM707 399.40h11V412.80h-11zM707 426.20h11V439.60h-11zM718 399.40h11V466.40h-11zM729 439.60h11V453.00h-11zM740 380.64h11V386.00h-11zM740 399.40h11V426.20h-11zM751 412.80h11V453.00h-11zM762 305.60h11V310.96h-11zM762 321.68h11V327.04h-11zM762 348.48h11V353.84h-11zM762 359.20h11V369.92h-11zM762 399.40h11V412.80h-11zM762 439.60h11V466.40h-11zM773 316.32h11V321.68h-11zM773 337.76h11V343.12h-11zM773 375.28h11V380.64h-11zM773 399.40h11V412.80h-11zM773 426.20h11V466.40h-11zM784 123.36h11V128.72h-11zM784 305.60h11V310.96h-11zM784 364.56h11V369.92h-11zM784 380.64h11V386.00h-11zM784 412.80h11V453.00h-11zM795 118.00h11V121.70h-11zM795 348.48h11V353.84h-11zM795 369.92h11V375.28h-11zM795 399.40h11V412.80h-11zM795 426.20h11V453.00h-11zM806 399.40h11V453.00h-11zM817 359.20h11V364.56h-11zM817 412.80h11V426.20h-11zM828 364.56h11V369.92h-11zM828 380.64h11V386.00h-11zM828 399.40h11V439.60h-11zM828 453.00h11V466.40h-11zM839 294.88h11V300.24h-11zM839 369.92h11V375.28h-11zM839 399.40h11V439.60h-11zM839 453.00h11V466.40h-11zM850 268.08h11V273.44h-11zM850 426.20h11V439.60h-11zM850 453.00h11V466.40h-11zM861 412.80h11V426.20h-11zM861 439.60h11V466.40h-11zM861 479.80h11V493.20h-11zM872 412.80h11V426.20h-11zM872 466.40h11V479.80h-11zM883 399.40h11V412.80h-11zM894 412.80h11V453.00h-11zM905 399.40h11V426.20h-11zM905 453.00h11V466.40h-11zM916 412.80h11V439.60h-11zM916 453.00h11V466.40h-11zM927 466.40h11V479.80h-11zM938 412.80h11V453.00h-11zM938 466.40h11V479.80h-11zM949 369.92h11V375.28h-11zM949 399.40h11V426.20h-11zM960 289.52h11V294.88h-11zM960 310.96h11V316.32h-11zM960 343.12h11V348.48h-11zM960 369.92h11V375.28h-11zM960 399.40h11V412.80h-11zM960 426.20h11V439.60h-11zM971 412.80h11V453.00h-11zM971 466.40h11V479.80h-11z"/>
<path fill="#eafbe6" d="M156 439.60h11V453.00h-11zM167 426.20h11V439.60h-11zM167 640.60h11V654.00h-11zM178 126.04h11V131.40h-11zM189 126.04h11V128.72h-11zM189 412.80h11V426.20h-11zM189 627.20h11V640.60h-11zM211 506.60h11V520.00h-11zM222 118.00h11V123.36h-11zM222 506.60h11V520.00h-11zM233 126.04h11V128.72h-11zM244 120.68h11V123.36h-11zM244 600.40h11V613.80h-11zM244 640.60h11V654.00h-11zM255 640.60h11V654.00h-11zM266 120.68h11V126.04h-11zM277 160.88h11V163.56h-11zM277 600.40h11V613.80h-11zM299 118.00h11V123.36h-11zM299 126.04h11V128.72h-11zM299 134.08h11V136.76h-11zM299 386.00h11V399.40h-11zM299 520.00h11V533.40h-11zM310 118.00h11V120.68h-11zM310 134.08h11V136.76h-11zM321 144.80h11V147.48h-11zM321 155.52h11V158.20h-11zM332 118.00h11V120.68h-11zM332 139.44h11V142.12h-11zM354 118.00h11V120.68h-11zM354 139.44h11V142.12h-11zM354 150.16h11V152.84h-11zM354 158.20h11V160.88h-11zM365 136.76h11V139.44h-11zM365 155.52h11V158.20h-11zM365 163.56h11V166.24h-11zM365 479.80h11V493.20h-11zM376 120.68h11V123.36h-11zM376 158.20h11V160.88h-11zM376 166.24h11V168.92h-11zM387 142.12h11V144.80h-11zM387 152.84h11V155.52h-11zM387 160.88h11V163.56h-11zM387 166.24h11V168.92h-11zM398 128.72h11V131.40h-11zM398 147.48h11V150.16h-11zM398 155.52h11V158.20h-11zM398 546.80h11V560.20h-11zM442 126.04h11V128.72h-11zM464 587.00h11V600.40h-11zM475 533.40h11V546.80h-11zM508 123.36h11V126.04h-11zM530 439.60h11V453.00h-11zM563 627.20h12V640.60h-12zM575 479.80h11V493.20h-11zM619 493.20h11V506.60h-11zM619 520.00h11V533.40h-11zM641 479.80h11V493.20h-11zM740 426.20h11V439.60h-11zM795 506.60h11V520.00h-11zM806 126.04h11V128.72h-11zM872 123.36h11V128.72h-11zM872 560.20h11V573.60h-11zM938 131.40h11V134.08h-11zM949 128.72h11V131.40h-11zM960 386.00h11V399.40h-11zM971 120.68h11V123.36h-11zM971 128.72h11V131.40h-11z"/>
<path fill="#fee4b0" d="M167 120.68h11V123.36h-11zM200 131.40h11V134.08h-11zM211 123.36h11V128.72h-11zM277 123.36h11V126.04h-11zM299 131.40h11V134.08h-11zM310 126.04h11V128.72h-11zM321 139.44h11V142.12h-11zM321 152.84h11V155.52h-11zM321 158.20h11V160.88h-11zM332 120.68h11V126.04h-11zM332 134.08h11V139.44h-11zM343 128.72h11V136.76h-11zM343 139.44h11V142.12h-11zM354 155.52h11V158.20h-11zM365 123.36h11V134.08h-11zM365 142.12h11V144.80h-11zM376 118.00h11V120.68h-11zM376 139.44h11V142.12h-11zM376 144.80h11V147.48h-11zM376 150.16h11V152.84h-11zM376 171.60h11V176.96h-11zM387 126.04h11V128.72h-11zM387 139.44h11V142.12h-11zM398 144.80h11V147.48h-11zM431 126.04h11V128.72h-11zM431 139.44h11V144.80h-11zM442 123.36h11V126.04h-11zM453 118.00h11V123.36h-11zM497 126.04h11V128.72h-11zM508 126.04h11V128.72h-11zM519 120.68h11V123.36h-11zM641 128.72h11V131.40h-11zM839 126.04h11V128.72h-11zM850 118.00h11V120.68h-11zM872 120.68h11V123.36h-11zM905 120.68h11V123.36h-11zM927 118.00h11V123.36h-11zM927 126.04h11V128.72h-11zM938 123.36h11V126.04h-11zM971 123.36h11V126.04h-11z"/>
<path fill="#6ed6fa" d="M167 123.36h11V128.72h-11zM178 289.52h11V294.88h-11zM189 262.72h11V268.08h-11zM189 284.16h11V289.52h-11zM211 214.48h11V219.84h-11zM211 252.00h11V257.36h-11zM233 273.44h11V278.80h-11zM233 337.76h11V348.48h-11zM244 219.84h11V225.20h-11zM255 214.48h11V219.84h-11zM266 139.44h11V144.80h-11zM277 198.40h11V203.76h-11zM321 262.72h11V268.08h-11zM343 294.88h11V300.24h-11zM343 305.60h11V310.96h-11zM354 257.36h11V262.72h-11zM376 262.72h11V268.08h-11zM376 332.40h11V337.76h-11zM398 289.52h11V294.88h-11zM398 332.40h11V337.76h-11zM409 273.44h11V278.80h-11zM442 257.36h11V262.72h-11zM442 294.88h11V300.24h-11zM453 284.16h11V289.52h-11zM475 160.88h11V166.24h-11zM486 252.00h11V262.72h-11zM486 284.16h11V289.52h-11zM486 369.92h11V375.28h-11zM497 300.24h11V305.60h-11zM497 359.20h11V364.56h-11zM508 289.52h11V294.88h-11zM530 123.36h11V128.72h-11zM530 300.24h11V305.60h-11zM541 198.40h11V203.76h-11zM541 209.12h11V214.48h-11zM552 268.08h11V273.44h-11zM552 278.80h11V284.16h-11zM563 198.40h12V203.76h-12zM586 316.32h11V321.68h-11zM597 316.32h11V321.68h-11zM630 182.32h11V187.68h-11zM630 219.84h11V225.20h-11zM630 262.72h11V268.08h-11zM630 327.04h11V332.40h-11zM641 337.76h11V343.12h-11zM685 278.80h11V284.16h-11zM729 321.68h11V327.04h-11zM740 284.16h11V289.52h-11zM740 327.04h11V332.40h-11zM740 369.92h11V375.28h-11zM795 278.80h11V284.16h-11zM806 321.68h11V327.04h-11zM806 332.40h11V337.76h-11zM817 289.52h11V294.88h-11zM828 257.36h11V262.72h-11zM839 268.08h11V273.44h-11zM839 337.76h11V343.12h-11zM850 273.44h11V278.80h-11zM861 278.80h11V284.16h-11zM861 294.88h11V300.24h-11zM872 289.52h11V294.88h-11zM883 268.08h11V273.44h-11zM883 337.76h11V343.12h-11zM905 305.60h11V310.96h-11zM916 246.64h11V252.00h-11zM949 273.44h11V278.80h-11z"/>
<path fill="#567efa" d="M167 209.12h11V219.84h-11zM211 139.44h11V144.80h-11zM222 182.32h11V187.68h-11zM299 230.56h11V235.92h-11zM299 273.44h11V278.80h-11zM321 241.28h11V246.64h-11zM321 278.80h11V284.16h-11zM332 262.72h11V268.08h-11zM365 203.76h11V209.12h-11zM376 273.44h11V278.80h-11zM431 246.64h11V252.00h-11zM442 246.64h11V252.00h-11zM453 252.00h11V257.36h-11zM475 134.08h11V139.44h-11zM486 134.08h11V139.44h-11zM486 273.44h11V278.80h-11zM486 289.52h11V294.88h-11zM508 268.08h11V273.44h-11zM508 353.84h11V359.20h-11zM519 235.92h11V241.28h-11zM519 257.36h11V262.72h-11zM519 321.68h11V327.04h-11zM530 278.80h11V284.16h-11zM541 176.96h11V182.32h-11zM552 252.00h11V262.72h-11zM552 284.16h11V289.52h-11zM563 144.80h12V150.16h-12zM563 273.44h12V278.80h-12zM586 241.28h11V246.64h-11zM597 257.36h11V262.72h-11zM630 257.36h11V262.72h-11zM630 278.80h11V284.16h-11zM630 305.60h11V310.96h-11zM652 252.00h11V257.36h-11zM652 268.08h11V273.44h-11zM663 198.40h11V203.76h-11zM663 289.52h11V294.88h-11zM663 310.96h11V316.32h-11zM674 300.24h11V305.60h-11zM674 321.68h11V327.04h-11zM685 353.84h11V359.20h-11zM696 332.40h11V337.76h-11zM707 278.80h11V284.16h-11zM707 305.60h11V310.96h-11zM707 321.68h11V327.04h-11zM707 353.84h11V359.20h-11zM718 278.80h11V284.16h-11zM718 327.04h11V332.40h-11zM729 246.64h11V252.00h-11zM729 294.88h11V305.60h-11zM740 214.48h11V219.84h-11zM751 230.56h11V235.92h-11zM751 278.80h11V284.16h-11zM762 246.64h11V252.00h-11zM784 118.00h11V123.36h-11zM839 246.64h11V252.00h-11zM850 262.72h11V268.08h-11zM861 118.00h11V123.36h-11zM872 252.00h11V262.72h-11zM883 257.36h11V262.72h-11zM894 209.12h11V214.48h-11zM894 230.56h11V235.92h-11zM949 235.92h11V241.28h-11zM949 246.64h11V252.00h-11zM960 214.48h11V219.84h-11zM960 252.00h11V257.36h-11zM960 284.16h11V289.52h-11z"/>
<path fill="#7af0fa" d="M167 225.20h11V230.56h-11zM167 278.80h11V284.16h-11zM178 230.56h11V235.92h-11zM178 252.00h11V257.36h-11zM200 246.64h11V252.00h-11zM200 273.44h11V284.16h-11zM200 353.84h11V359.20h-11zM211 246.64h11V252.00h-11zM222 171.60h11V176.96h-11zM222 198.40h11V203.76h-11zM222 241.28h11V246.64h-11zM233 294.88h11V305.60h-11zM255 289.52h11V294.88h-11zM266 241.28h11V246.64h-11zM266 273.44h11V278.80h-11zM266 289.52h11V294.88h-11zM266 359.20h11V364.56h-11zM277 257.36h11V262.72h-11zM321 289.52h11V294.88h-11zM321 316.32h11V321.68h-11zM343 246.64h11V252.00h-11zM365 343.12h11V348.48h-11zM387 262.72h11V268.08h-11zM398 246.64h11V252.00h-11zM431 310.96h11V316.32h-11zM464 332.40h11V337.76h-11zM486 241.28h11V246.64h-11zM486 380.64h11V386.00h-11zM519 123.36h11V128.72h-11zM519 337.76h11V343.12h-11zM530 337.76h11V343.12h-11zM541 203.76h11V209.12h-11zM541 310.96h11V316.32h-11zM575 235.92h11V241.28h-11zM575 310.96h11V316.32h-11zM586 193.04h11V198.40h-11zM597 294.88h11V300.24h-11zM597 343.12h11V348.48h-11zM608 337.76h11V343.12h-11zM608 359.20h11V369.92h-11zM663 359.20h11V364.56h-11zM663 375.28h11V380.64h-11zM674 118.00h11V121.70h-11zM674 289.52h11V294.88h-11zM696 289.52h11V294.88h-11zM707 176.96h11V187.68h-11zM718 310.96h11V316.32h-11zM729 353.84h11V359.20h-11zM784 198.40h11V203.76h-11zM795 294.88h11V300.24h-11zM806 246.64h11V252.00h-11zM817 118.00h11V123.36h-11zM817 214.48h11V219.84h-11zM828 289.52h11V294.88h-11zM839 316.32h11V321.68h-11zM872 268.08h11V273.44h-11zM872 300.24h11V305.60h-11zM894 310.96h11V316.32h-11zM905 209.12h11V214.48h-11zM916 268.08h11V273.44h-11zM916 300.24h11V305.60h-11zM927 300.24h11V305.60h-11zM938 300.24h11V305.60h-11zM949 214.48h11V219.84h-11zM960 359.20h11V364.56h-11zM971 332.40h11V337.76h-11z"/>
<path fill="#62a8fa" d="M167 273.44h11V278.80h-11zM189 257.36h11V262.72h-11zM200 252.00h11V262.72h-11zM233 262.72h11V273.44h-11zM255 230.56h11V235.92h-11zM255 278.80h11V284.16h-11zM299 252.00h11V268.08h-11zM310 257.36h11V262.72h-11zM310 294.88h11V300.24h-11zM332 252.00h11V257.36h-11zM332 273.44h11V278.80h-11zM343 262.72h11V268.08h-11zM343 273.44h11V278.80h-11zM354 252.00h11V257.36h-11zM354 278.80h11V294.88h-11zM354 300.24h11V305.60h-11zM365 262.72h11V273.44h-11zM365 278.80h11V284.16h-11zM365 294.88h11V300.24h-11zM376 278.80h11V284.16h-11zM376 289.52h11V294.88h-11zM376 300.24h11V305.60h-11zM387 273.44h11V278.80h-11zM387 332.40h11V337.76h-11zM398 273.44h11V278.80h-11zM431 305.60h11V310.96h-11zM442 262.72h11V268.08h-11zM464 252.00h11V257.36h-11zM464 284.16h11V289.52h-11zM475 268.08h11V278.80h-11zM486 262.72h11V268.08h-11zM486 278.80h11V284.16h-11zM486 294.88h11V300.24h-11zM486 305.60h11V310.96h-11zM486 343.12h11V348.48h-11zM497 316.32h11V321.68h-11zM497 337.76h11V343.12h-11zM497 353.84h11V359.20h-11zM508 252.00h11V257.36h-11zM508 284.16h11V289.52h-11zM508 343.12h11V348.48h-11zM508 359.20h11V364.56h-11zM519 278.80h11V284.16h-11zM519 294.88h11V300.24h-11zM519 305.60h11V310.96h-11zM530 284.16h11V289.52h-11zM530 294.88h11V300.24h-11zM552 294.88h11V300.24h-11zM552 310.96h11V321.68h-11zM552 332.40h11V337.76h-11zM563 252.00h12V262.72h-12zM563 300.24h12V305.60h-12zM563 321.68h12V327.04h-12zM575 262.72h11V273.44h-11zM586 252.00h11V262.72h-11zM586 273.44h11V284.16h-11zM608 273.44h11V278.80h-11zM608 284.16h11V289.52h-11zM608 294.88h11V300.24h-11zM608 369.92h11V375.28h-11zM619 252.00h11V257.36h-11zM619 284.16h11V289.52h-11zM619 294.88h11V300.24h-11zM619 305.60h11V310.96h-11zM619 321.68h11V327.04h-11zM619 332.40h11V337.76h-11zM619 359.20h11V364.56h-11zM630 284.16h11V289.52h-11zM630 294.88h11V305.60h-11zM641 284.16h11V289.52h-11zM652 284.16h11V289.52h-11zM652 294.88h11V300.24h-11zM652 305.60h11V316.32h-11zM663 273.44h11V278.80h-11zM663 294.88h11V300.24h-11zM663 332.40h11V337.76h-11zM663 353.84h11V359.20h-11zM674 284.16h11V289.52h-11zM674 305.60h11V310.96h-11zM674 348.48h11V353.84h-11zM685 262.72h11V268.08h-11zM685 273.44h11V278.80h-11zM685 294.88h11V300.24h-11zM685 316.32h11V321.68h-11zM685 327.04h11V332.40h-11zM696 327.04h11V332.40h-11zM696 343.12h11V348.48h-11zM707 310.96h11V316.32h-11zM707 332.40h11V337.76h-11zM707 348.48h11V353.84h-11zM707 359.20h11V364.56h-11zM718 273.44h11V278.80h-11zM718 284.16h11V289.52h-11zM718 294.88h11V300.24h-11zM718 321.68h11V327.04h-11zM718 332.40h11V337.76h-11zM729 284.16h11V289.52h-11zM740 252.00h11V262.72h-11zM740 268.08h11V273.44h-11zM740 278.80h11V284.16h-11zM740 310.96h11V316.32h-11zM740 321.68h11V327.04h-11zM740 343.12h11V348.48h-11zM751 262.72h11V268.08h-11zM751 343.12h11V348.48h-11zM762 252.00h11V262.72h-11zM784 294.88h11V300.24h-11zM795 252.00h11V257.36h-11zM795 273.44h11V278.80h-11zM806 284.16h11V289.52h-11zM817 252.00h11V262.72h-11zM817 268.08h11V278.80h-11zM817 284.16h11V289.52h-11zM817 294.88h11V300.24h-11zM817 305.60h11V321.68h-11zM828 268.08h11V278.80h-11zM828 316.32h11V327.04h-11zM839 257.36h11V268.08h-11zM839 284.16h11V289.52h-11zM839 305.60h11V316.32h-11zM839 327.04h11V332.40h-11zM850 284.16h11V294.88h-11zM850 310.96h11V316.32h-11zM861 252.00h11V262.72h-11zM861 268.08h11V278.80h-11zM872 278.80h11V289.52h-11zM872 310.96h11V316.32h-11zM883 273.44h11V278.80h-11zM894 252.00h11V268.08h-11zM894 300.24h11V305.60h-11zM905 252.00h11V262.72h-11zM905 284.16h11V294.88h-11zM905 316.32h11V321.68h-11zM916 284.16h11V289.52h-11zM927 257.36h11V262.72h-11zM927 268.08h11V273.44h-11zM927 289.52h11V294.88h-11zM938 268.08h11V273.44h-11zM938 278.80h11V284.16h-11zM949 257.36h11V262.72h-11zM949 268.08h11V273.44h-11zM949 278.80h11V289.52h-11zM949 294.88h11V300.24h-11zM960 268.08h11V273.44h-11zM971 252.00h11V262.72h-11z"/>
<path fill="#3a2eff" d="M178 182.32h11V198.40h-11zM200 193.04h11V198.40h-11zM255 182.32h11V187.68h-11zM310 176.96h11V182.32h-11zM310 225.20h11V235.92h-11zM321 230.56h11V235.92h-11zM332 128.72h11V134.08h-11zM332 144.80h11V155.52h-11zM376 198.40h11V203.76h-11zM475 176.96h11V182.32h-11zM508 187.68h11V193.04h-11zM552 214.48h11V219.84h-11zM563 230.56h12V235.92h-12zM586 219.84h11V225.20h-11zM597 235.92h11V241.28h-11zM608 155.52h11V160.88h-11zM608 209.12h11V214.48h-11zM641 203.76h11V209.12h-11zM674 166.24h11V176.96h-11zM696 203.76h11V209.12h-11zM718 176.96h11V182.32h-11zM718 219.84h11V225.20h-11zM773 214.48h11V219.84h-11zM784 176.96h11V182.32h-11zM817 209.12h11V214.48h-11zM850 171.60h11V176.96h-11zM850 219.84h11V225.20h-11zM905 214.48h11V219.84h-11zM916 225.20h11V230.56h-11zM927 203.76h11V209.12h-11zM927 235.92h11V241.28h-11zM949 187.68h11V193.04h-11zM960 198.40h11V203.76h-11zM971 235.92h11V241.28h-11z"/>
<path fill="#1903c6" d="M178 214.48h11V219.84h-11zM200 182.32h11V187.68h-11zM299 193.04h11V198.40h-11zM310 193.04h11V198.40h-11zM310 209.12h11V214.48h-11zM332 198.40h11V203.76h-11zM343 193.04h11V198.40h-11zM365 209.12h11V214.48h-11zM365 219.84h11V225.20h-11zM387 203.76h11V209.12h-11zM431 193.04h11V198.40h-11zM442 160.88h11V166.24h-11zM442 214.48h11V219.84h-11zM453 166.24h11V171.60h-11zM464 214.48h11V219.84h-11zM486 219.84h11V225.20h-11zM497 144.80h11V150.16h-11zM497 252.00h11V257.36h-11zM497 273.44h11V284.16h-11zM508 203.76h11V214.48h-11zM508 219.84h11V230.56h-11zM508 257.36h11V268.08h-11zM519 155.52h11V160.88h-11zM519 214.48h11V219.84h-11zM519 246.64h11V252.00h-11zM519 262.72h11V268.08h-11zM552 134.08h11V139.44h-11zM552 150.16h11V155.52h-11zM552 198.40h11V203.76h-11zM597 214.48h11V219.84h-11zM608 225.20h11V230.56h-11zM619 160.88h11V166.24h-11zM619 246.64h11V252.00h-11zM619 268.08h11V273.44h-11zM630 198.40h11V203.76h-11zM641 273.44h11V278.80h-11zM652 150.16h11V155.52h-11zM652 171.60h11V176.96h-11zM663 187.68h11V193.04h-11zM663 246.64h11V252.00h-11zM663 262.72h11V268.08h-11zM674 160.88h11V166.24h-11zM674 182.32h11V187.68h-11zM685 128.72h11V134.08h-11zM685 187.68h11V193.04h-11zM685 246.64h11V252.00h-11zM696 209.12h11V214.48h-11zM707 144.80h11V150.16h-11zM707 193.04h11V198.40h-11zM707 252.00h11V257.36h-11zM707 262.72h11V268.08h-11zM718 187.68h11V193.04h-11zM718 209.12h11V214.48h-11zM718 252.00h11V257.36h-11zM729 262.72h11V268.08h-11zM740 193.04h11V198.40h-11zM740 209.12h11V214.48h-11zM751 171.60h11V176.96h-11zM751 209.12h11V214.48h-11zM773 176.96h11V182.32h-11zM795 155.52h11V160.88h-11zM795 219.84h11V225.20h-11zM806 118.00h11V123.36h-11zM806 171.60h11V176.96h-11zM806 241.28h11V246.64h-11zM817 225.20h11V230.56h-11zM839 171.60h11V176.96h-11zM861 241.28h11V246.64h-11zM883 193.04h11V198.40h-11zM905 171.60h11V176.96h-11zM916 182.32h11V187.68h-11zM927 160.88h11V166.24h-11zM927 187.68h11V193.04h-11zM938 171.60h11V176.96h-11zM938 182.32h11V187.68h-11zM938 198.40h11V203.76h-11zM949 198.40h11V203.76h-11zM971 187.68h11V193.04h-11zM971 198.40h11V203.76h-11z"/>
<path fill="#2800fa" d="M189 166.24h11V171.60h-11zM189 176.96h11V182.32h-11zM189 187.68h11V198.40h-11zM189 203.76h11V214.48h-11zM244 155.52h11V160.88h-11zM277 139.44h11V144.80h-11zM288 144.80h11V150.16h-11zM310 187.68h11V193.04h-11zM321 171.60h11V176.96h-11zM332 209.12h11V214.48h-11zM354 225.20h11V230.56h-11zM365 182.32h11V193.04h-11zM387 209.12h11V214.48h-11zM398 160.88h11V166.24h-11zM409 166.24h11V171.60h-11zM431 176.96h11V182.32h-11zM442 187.68h11V193.04h-11zM442 225.20h11V230.56h-11zM442 235.92h11V241.28h-11zM453 171.60h11V176.96h-11zM464 198.40h11V203.76h-11zM464 219.84h11V225.20h-11zM475 209.12h11V214.48h-11zM486 166.24h11V171.60h-11zM486 230.56h11V235.92h-11zM497 134.08h11V139.44h-11zM497 268.08h11V273.44h-11zM497 284.16h11V289.52h-11zM508 166.24h11V171.60h-11zM508 294.88h11V300.24h-11zM530 160.88h11V166.24h-11zM575 182.32h11V187.68h-11zM575 214.48h11V219.84h-11zM586 176.96h11V187.68h-11zM652 198.40h11V203.76h-11zM663 241.28h11V246.64h-11zM674 187.68h11V193.04h-11zM685 150.16h11V155.52h-11zM696 150.16h11V155.52h-11zM707 284.16h11V289.52h-11zM718 155.52h11V160.88h-11zM718 182.32h11V187.68h-11zM740 150.16h11V155.52h-11zM740 198.40h11V203.76h-11zM751 155.52h11V160.88h-11zM751 166.24h11V171.60h-11zM751 214.48h11V219.84h-11zM773 198.40h11V209.12h-11zM784 203.76h11V209.12h-11zM806 193.04h11V198.40h-11zM806 214.48h11V219.84h-11zM817 230.56h11V235.92h-11zM828 123.36h11V128.72h-11zM828 214.48h11V219.84h-11zM861 219.84h11V225.20h-11zM883 198.40h11V203.76h-11zM883 230.56h11V235.92h-11zM916 187.68h11V193.04h-11zM927 166.24h11V171.60h-11zM960 171.60h11V176.96h-11zM971 182.32h11V187.68h-11z"/>
<path fill="#8cfafa" d="M189 225.20h11V230.56h-11zM189 235.92h11V241.28h-11zM222 225.20h11V230.56h-11zM255 187.68h11V193.04h-11zM266 219.84h11V225.20h-11zM288 209.12h11V214.48h-11zM332 182.32h11V187.68h-11zM343 166.24h11V176.96h-11zM354 203.76h11V209.12h-11zM431 386.00h11V399.40h-11zM453 386.00h11V399.40h-11zM464 171.60h11V176.96h-11zM464 241.28h11V246.64h-11zM464 386.00h11V399.40h-11zM475 386.00h11V399.40h-11zM486 386.00h11V399.40h-11zM508 386.00h11V399.40h-11zM519 386.00h11V399.40h-11zM530 386.00h11V399.40h-11zM541 166.24h11V171.60h-11zM541 386.00h11V399.40h-11zM552 386.00h11V399.40h-11zM563 386.00h12V399.40h-12zM575 386.00h11V399.40h-11zM586 386.00h11V399.40h-11zM597 386.00h11V399.40h-11zM619 386.00h11V399.40h-11zM630 386.00h11V399.40h-11zM652 386.00h11V399.40h-11zM674 386.00h11V399.40h-11zM696 171.60h11V176.96h-11zM707 160.88h11V176.96h-11zM707 386.00h11V399.40h-11zM729 235.92h11V241.28h-11zM740 386.00h11V399.40h-11zM751 386.00h11V399.40h-11zM762 386.00h11V399.40h-11zM773 225.20h11V230.56h-11zM773 386.00h11V399.40h-11zM795 386.00h11V399.40h-11zM806 386.00h11V399.40h-11zM817 386.00h11V399.40h-11zM828 386.00h11V399.40h-11zM850 386.00h11V399.40h-11zM861 386.00h11V399.40h-11zM872 386.00h11V399.40h-11zM894 386.00h11V399.40h-11zM905 386.00h11V399.40h-11zM927 386.00h11V399.40h-11zM938 386.00h11V399.40h-11zM949 386.00h11V399.40h-11zM971 386.00h11V399.40h-11z"/>
<path fill="#fedc8e" d="M211 120.68h11V123.36h-11zM222 123.36h11V128.72h-11zM222 155.52h11V158.20h-11zM233 123.36h11V126.04h-11zM299 139.44h11V142.12h-11zM310 128.72h11V134.08h-11zM321 118.00h11V123.36h-11zM365 120.68h11V123.36h-11zM365 139.44h11V142.12h-11zM376 123.36h11V128.72h-11zM376 163.56h11V166.24h-11zM387 163.56h11V166.24h-11zM398 120.68h11V123.36h-11zM398 126.04h11V128.72h-11zM486 126.04h11V128.72h-11zM740 118.00h11V121.70h-11zM751 118.00h11V121.70h-11zM839 118.00h11V123.36h-11zM883 118.00h11V123.36h-11zM971 126.04h11V128.72h-11z"/>
<path fill="#4a50ff" d="M233 252.00h11V257.36h-11zM266 235.92h11V241.28h-11zM310 214.48h11V219.84h-11zM321 257.36h11V262.72h-11zM365 198.40h11V203.76h-11zM365 246.64h11V252.00h-11zM376 230.56h11V241.28h-11zM376 268.08h11V273.44h-11zM387 252.00h11V262.72h-11zM398 230.56h11V235.92h-11zM409 219.84h11V225.20h-11zM475 187.68h11V193.04h-11zM508 273.44h11V278.80h-11zM530 241.28h11V246.64h-11zM530 257.36h11V262.72h-11zM563 225.20h12V230.56h-12zM586 155.52h11V160.88h-11zM597 203.76h11V209.12h-11zM597 262.72h11V268.08h-11zM630 193.04h11V198.40h-11zM630 252.00h11V257.36h-11zM630 268.08h11V273.44h-11zM641 198.40h11V203.76h-11zM641 214.48h11V219.84h-11zM641 230.56h11V235.92h-11zM641 262.72h11V268.08h-11zM641 310.96h11V316.32h-11zM652 257.36h11V262.72h-11zM663 278.80h11V284.16h-11zM674 209.12h11V214.48h-11zM674 230.56h11V235.92h-11zM674 241.28h11V246.64h-11zM674 252.00h11V257.36h-11zM674 268.08h11V273.44h-11zM685 155.52h11V160.88h-11zM685 235.92h11V241.28h-11zM685 268.08h11V273.44h-11zM696 294.88h11V300.24h-11zM707 300.24h11V305.60h-11zM718 150.16h11V155.52h-11zM718 160.88h11V166.24h-11zM718 241.28h11V246.64h-11zM729 273.44h11V278.80h-11zM740 262.72h11V268.08h-11zM751 257.36h11V262.72h-11zM762 225.20h11V230.56h-11zM762 241.28h11V246.64h-11zM784 166.24h11V171.60h-11zM784 193.04h11V198.40h-11zM784 257.36h11V262.72h-11zM806 166.24h11V171.60h-11zM817 182.32h11V187.68h-11zM817 193.04h11V198.40h-11zM828 225.20h11V230.56h-11zM839 176.96h11V182.32h-11zM839 193.04h11V198.40h-11zM850 166.24h11V171.60h-11zM850 214.48h11V219.84h-11zM850 241.28h11V246.64h-11zM861 198.40h11V203.76h-11zM872 187.68h11V193.04h-11zM883 262.72h11V268.08h-11zM894 155.52h11V160.88h-11zM894 198.40h11V203.76h-11zM894 246.64h11V252.00h-11zM905 225.20h11V230.56h-11zM949 203.76h11V209.12h-11zM949 241.28h11V246.64h-11zM949 262.72h11V268.08h-11zM960 209.12h11V214.48h-11zM960 219.84h11V225.20h-11zM971 203.76h11V209.12h-11z"/>
<path fill="#5370fb" d="M255 176.96h11V182.32h-11zM299 187.68h11V193.04h-11zM310 219.84h11V225.20h-11zM321 219.84h11V225.20h-11zM387 219.84h11V225.20h-11zM453 246.64h11V252.00h-11zM575 219.84h11V225.20h-11zM696 144.80h11V150.16h-11zM707 203.76h11V209.12h-11zM707 219.84h11V225.20h-11zM740 230.56h11V235.92h-11zM784 225.20h11V230.56h-11zM850 225.20h11V230.56h-11zM872 225.20h11V230.56h-11zM905 182.32h11V187.68h-11zM927 198.40h11V203.76h-11z"/>
<path fill="#ff5b00" d="M288 123.36h11V128.72h-11z"/>
<path fill="#4242ff" d="M321 252.00h11V257.36h-11zM343 252.00h11V257.36h-11zM497 289.52h11V294.88h-11zM530 252.00h11V257.36h-11zM641 305.60h11V310.96h-11zM652 278.80h11V284.16h-11zM674 278.80h11V284.16h-11zM696 278.80h11V284.16h-11zM718 262.72h11V268.08h-11zM751 252.00h11V257.36h-11zM850 252.00h11V257.36h-11zM916 278.80h11V284.16h-11zM971 278.80h11V284.16h-11z"/>
<path fill="#feb20c" d="M563 118.00h12V121.70h-12z"/>
<path fill="#1505b5" d="M960 193.04h11V198.40h-11z"/>
<rect x="156" y="118" width="826" height="1" fill="#241a14"/>
<rect x="156" y="119" width="826" height="1" fill="#4a2810" fill-opacity="0.4"/>
<rect x="398" y="654" width="11" height="1" fill="#262626"/>
<rect x="420" y="654" width="11" height="1" fill="#262626"/>
<rect x="640" y="654" width="11" height="1" fill="#262626"/>
<rect x="706" y="654" width="11" height="1" fill="#262626"/>
<rect x="871" y="654" width="11" height="1" fill="#262626"/>
<rect x="970" y="654" width="11" height="1" fill="#262626"/>
<rect x="980" y="641" width="1" height="14" fill="#262626"/></g>
<rect x="1002" y="119.00" width="42" height="8.97" fill="#050586"/>
<rect x="1002" y="127.37" width="42" height="8.97" fill="#07068f"/>
<rect x="1002" y="135.73" width="42" height="8.97" fill="#0e089a"/>
<rect x="1002" y="144.10" width="42" height="8.97" fill="#1106a7"/>
<rect x="1002" y="152.47" width="42" height="8.97" fill="#1505b5"/>
<rect x="1002" y="160.84" width="42" height="8.97" fill="#1903c6"/>
<rect x="1002" y="169.20" width="42" height="8.97" fill="#1e01d8"/>
<rect x="1002" y="177.57" width="42" height="8.97" fill="#2300ea"/>
<rect x="1002" y="185.94" width="42" height="8.97" fill="#2800fa"/>
<rect x="1002" y="194.30" width="42" height="8.97" fill="#300eff"/>
<rect x="1002" y="202.67" width="42" height="8.97" fill="#3621ff"/>
<rect x="1002" y="211.04" width="42" height="8.97" fill="#3a2eff"/>
<rect x="1002" y="219.41" width="42" height="8.97" fill="#3d38ff"/>
<rect x="1002" y="227.77" width="42" height="8.97" fill="#4242ff"/>
<rect x="1002" y="236.14" width="42" height="8.97" fill="#4a50ff"/>
<rect x="1002" y="244.51" width="42" height="8.97" fill="#4f61fc"/>
<rect x="1002" y="252.88" width="42" height="8.97" fill="#5370fb"/>
<rect x="1002" y="261.24" width="42" height="8.97" fill="#567efa"/>
<rect x="1002" y="269.61" width="42" height="8.97" fill="#598cfa"/>
<rect x="1002" y="277.98" width="42" height="8.97" fill="#5d99fa"/>
<rect x="1002" y="286.34" width="42" height="8.97" fill="#62a8fa"/>
<rect x="1002" y="294.71" width="42" height="8.97" fill="#67b7fa"/>
<rect x="1002" y="303.08" width="42" height="8.97" fill="#6bc7fa"/>
<rect x="1002" y="311.45" width="42" height="8.97" fill="#6ed6fa"/>
<rect x="1002" y="319.81" width="42" height="8.97" fill="#72e4fa"/>
<rect x="1002" y="328.18" width="42" height="8.97" fill="#7af0fa"/>
<rect x="1002" y="336.55" width="42" height="8.97" fill="#8cfafa"/>
<rect x="1002" y="344.91" width="42" height="8.97" fill="#9dfcf8"/>
<rect x="1002" y="353.28" width="42" height="8.97" fill="#aefdf6"/>
<rect x="1002" y="361.65" width="42" height="8.97" fill="#befef2"/>
<rect x="1002" y="370.02" width="42" height="8.97" fill="#d2feee"/>
<rect x="1002" y="378.38" width="42" height="8.97" fill="#eafbe6"/>
<rect x="1002" y="386.75" width="42" height="8.97" fill="#feefd1"/>
<rect x="1002" y="395.12" width="42" height="8.97" fill="#fee4b0"/>
<rect x="1002" y="403.48" width="42" height="8.97" fill="#fedc8e"/>
<rect x="1002" y="411.85" width="42" height="8.97" fill="#fed367"/>
<rect x="1002" y="420.22" width="42" height="8.97" fill="#fec83b"/>
<rect x="1002" y="428.59" width="42" height="8.97" fill="#febe1e"/>
<rect x="1002" y="436.95" width="42" height="8.97" fill="#feb20c"/>
<rect x="1002" y="445.32" width="42" height="8.97" fill="#ffa302"/>
<rect x="1002" y="453.69" width="42" height="8.97" fill="#ff9600"/>
<rect x="1002" y="462.05" width="42" height="8.97" fill="#ff8900"/>
<rect x="1002" y="470.42" width="42" height="8.97" fill="#ff7d00"/>
<rect x="1002" y="478.79" width="42" height="8.97" fill="#ff7100"/>
<rect x="1002" y="487.16" width="42" height="8.97" fill="#ff6600"/>
<rect x="1002" y="495.52" width="42" height="8.97" fill="#ff5b00"/>
<rect x="1002" y="503.89" width="42" height="8.97" fill="#ff5000"/>
<rect x="1002" y="512.26" width="42" height="8.97" fill="#ff4500"/>
<rect x="1002" y="520.62" width="42" height="8.97" fill="#ff3c00"/>
<rect x="1002" y="528.99" width="42" height="8.97" fill="#ff3500"/>
<rect x="1002" y="537.36" width="42" height="8.97" fill="#ff2d00"/>
<rect x="1002" y="545.73" width="42" height="8.97" fill="#ff2400"/>
<rect x="1002" y="554.09" width="42" height="8.97" fill="#ff1800"/>
<rect x="1002" y="562.46" width="42" height="8.97" fill="#ff0b00"/>
<rect x="1002" y="570.83" width="42" height="8.97" fill="#fe0000"/>
<rect x="1002" y="579.20" width="42" height="8.97" fill="#f20000"/>
<rect x="1002" y="587.56" width="42" height="8.97" fill="#e50000"/>
<rect x="1002" y="595.93" width="42" height="8.97" fill="#d90000"/>
<rect x="1002" y="604.30" width="42" height="8.97" fill="#ca0000"/>
<rect x="1002" y="612.66" width="42" height="8.97" fill="#bc0000"/>
<rect x="1002" y="621.03" width="42" height="8.97" fill="#ac0000"/>
<rect x="1002" y="629.40" width="42" height="8.97" fill="#9f0000"/>
<rect x="1002" y="637.77" width="42" height="8.97" fill="#930000"/>
<rect x="1002" y="646.13" width="42" height="8.97" fill="#860000"/>
<rect x="1002.5" y="119.5" width="41" height="535" fill="none" stroke="#1a1a1a" stroke-opacity="0.8" stroke-width="1"/>
<line x1="1038" y1="172.5" x2="1044" y2="172.5" stroke="#262626" stroke-width="1"/>
<line x1="1038" y1="226.5" x2="1044" y2="226.5" stroke="#262626" stroke-width="1"/>
<line x1="1038" y1="279.5" x2="1044" y2="279.5" stroke="#262626" stroke-width="1"/>
<line x1="1038" y1="333.5" x2="1044" y2="333.5" stroke="#262626" stroke-width="1"/>
<line x1="1038" y1="386.5" x2="1044" y2="386.5" stroke="#262626" stroke-width="1"/>
<line x1="1038" y1="440.5" x2="1044" y2="440.5" stroke="#262626" stroke-width="1"/>
<line x1="1038" y1="494.5" x2="1044" y2="494.5" stroke="#262626" stroke-width="1"/>
<line x1="1038" y1="547.5" x2="1044" y2="547.5" stroke="#262626" stroke-width="1"/>
<line x1="1038" y1="601.5" x2="1044" y2="601.5" stroke="#262626" stroke-width="1"/>
<rect x="156.5" y="864.5" width="825" height="537" fill="#fff" stroke="#262626" stroke-width="1"/>
<line x1="266.5" y1="1402" x2="266.5" y2="1393" stroke="#262626"/>
<line x1="266.5" y1="864" x2="266.5" y2="873" stroke="#262626"/>
<line x1="376.5" y1="1402" x2="376.5" y2="1393" stroke="#262626"/>
<line x1="376.5" y1="864" x2="376.5" y2="873" stroke="#262626"/>
<line x1="486.5" y1="1402" x2="486.5" y2="1393" stroke="#262626"/>
<line x1="486.5" y1="864" x2="486.5" y2="873" stroke="#262626"/>
<line x1="596.5" y1="1402" x2="596.5" y2="1393" stroke="#262626"/>
<line x1="596.5" y1="864" x2="596.5" y2="873" stroke="#262626"/>
<line x1="706.5" y1="1402" x2="706.5" y2="1393" stroke="#262626"/>
<line x1="706.5" y1="864" x2="706.5" y2="873" stroke="#262626"/>
<line x1="816.5" y1="1402" x2="816.5" y2="1393" stroke="#262626"/>
<line x1="816.5" y1="864" x2="816.5" y2="873" stroke="#262626"/>
<line x1="926.5" y1="1402" x2="926.5" y2="1393" stroke="#262626"/>
<line x1="926.5" y1="864" x2="926.5" y2="873" stroke="#262626"/>
<line x1="156" y1="917.5" x2="165" y2="917.5" stroke="#262626"/>
<line x1="982" y1="917.5" x2="973" y2="917.5" stroke="#262626"/>
<line x1="156" y1="971.5" x2="165" y2="971.5" stroke="#262626"/>
<line x1="982" y1="971.5" x2="973" y2="971.5" stroke="#262626"/>
<line x1="156" y1="1025.5" x2="165" y2="1025.5" stroke="#262626"/>
<line x1="982" y1="1025.5" x2="973" y2="1025.5" stroke="#262626"/>
<line x1="156" y1="1078.5" x2="165" y2="1078.5" stroke="#262626"/>
<line x1="982" y1="1078.5" x2="973" y2="1078.5" stroke="#262626"/>
<line x1="156" y1="1132.5" x2="165" y2="1132.5" stroke="#262626"/>
<line x1="982" y1="1132.5" x2="973" y2="1132.5" stroke="#262626"/>
<line x1="156" y1="1186.5" x2="165" y2="1186.5" stroke="#262626"/>
<line x1="982" y1="1186.5" x2="973" y2="1186.5" stroke="#262626"/>
<line x1="156" y1="1240.5" x2="165" y2="1240.5" stroke="#262626"/>
<line x1="982" y1="1240.5" x2="973" y2="1240.5" stroke="#262626"/>
<line x1="156" y1="1293.5" x2="165" y2="1293.5" stroke="#262626"/>
<line x1="982" y1="1293.5" x2="973" y2="1293.5" stroke="#262626"/>
<line x1="156" y1="1347.5" x2="165" y2="1347.5" stroke="#262626"/>
<line x1="982" y1="1347.5" x2="973" y2="1347.5" stroke="#262626"/>
<rect x="1002" y="866.00" width="42" height="8.97" fill="#050586"/>
<rect x="1002" y="874.37" width="42" height="8.97" fill="#07068f"/>
<rect x="1002" y="882.73" width="42" height="8.97" fill="#0e089a"/>
<rect x="1002" y="891.10" width="42" height="8.97" fill="#1106a7"/>
<rect x="1002" y="899.47" width="42" height="8.97" fill="#1505b5"/>
<rect x="1002" y="907.84" width="42" height="8.97" fill="#1903c6"/>
<rect x="1002" y="916.20" width="42" height="8.97" fill="#1e01d8"/>
<rect x="1002" y="924.57" width="42" height="8.97" fill="#2300ea"/>
<rect x="1002" y="932.94" width="42" height="8.97" fill="#2800fa"/>
<rect x="1002" y="941.30" width="42" height="8.97" fill="#300eff"/>
<rect x="1002" y="949.67" width="42" height="8.97" fill="#3621ff"/>
<rect x="1002" y="958.04" width="42" height="8.97" fill="#3a2eff"/>
<rect x="1002" y="966.41" width="42" height="8.97" fill="#3d38ff"/>
<rect x="1002" y="974.77" width="42" height="8.97" fill="#4242ff"/>
<rect x="1002" y="983.14" width="42" height="8.97" fill="#4a50ff"/>
<rect x="1002" y="991.51" width="42" height="8.97" fill="#4f61fc"/>
<rect x="1002" y="999.88" width="42" height="8.97" fill="#5370fb"/>
<rect x="1002" y="1008.24" width="42" height="8.97" fill="#567efa"/>
<rect x="1002" y="1016.61" width="42" height="8.97" fill="#598cfa"/>
<rect x="1002" y="1024.98" width="42" height="8.97" fill="#5d99fa"/>
<rect x="1002" y="1033.34" width="42" height="8.97" fill="#62a8fa"/>
<rect x="1002" y="1041.71" width="42" height="8.97" fill="#67b7fa"/>
<rect x="1002" y="1050.08" width="42" height="8.97" fill="#6bc7fa"/>
<rect x="1002" y="1058.45" width="42" height="8.97" fill="#6ed6fa"/>
<rect x="1002" y="1066.81" width="42" height="8.97" fill="#72e4fa"/>
<rect x="1002" y="1075.18" width="42" height="8.97" fill="#7af0fa"/>
<rect x="1002" y="1083.55" width="42" height="8.97" fill="#8cfafa"/>
<rect x="1002" y="1091.91" width="42" height="8.97" fill="#9dfcf8"/>
<rect x="1002" y="1100.28" width="42" height="8.97" fill="#aefdf6"/>
<rect x="1002" y="1108.65" width="42" height="8.97" fill="#befef2"/>
<rect x="1002" y="1117.02" width="42" height="8.97" fill="#d2feee"/>
<rect x="1002" y="1125.38" width="42" height="8.97" fill="#eafbe6"/>
<rect x="1002" y="1133.75" width="42" height="8.97" fill="#feefd1"/>
<rect x="1002" y="1142.12" width="42" height="8.97" fill="#fee4b0"/>
<rect x="1002" y="1150.48" width="42" height="8.97" fill="#fedc8e"/>
<rect x="1002" y="1158.85" width="42" height="8.97" fill="#fed367"/>
<rect x="1002" y="1167.22" width="42" height="8.97" fill="#fec83b"/>
<rect x="1002" y="1175.59" width="42" height="8.97" fill="#febe1e"/>
<rect x="1002" y="1183.95" width="42" height="8.97" fill="#feb20c"/>
<rect x="1002" y="1192.32" width="42" height="8.97" fill="#ffa302"/>
<rect x="1002" y="1200.69" width="42" height="8.97" fill="#ff9600"/>
<rect x="1002" y="1209.05" width="42" height="8.97" fill="#ff8900"/>
<rect x="1002" y="1217.42" width="42" height="8.97" fill="#ff7d00"/>
<rect x="1002" y="1225.79" width="42" height="8.97" fill="#ff7100"/>
<rect x="1002" y="1234.16" width="42" height="8.97" fill="#ff6600"/>
<rect x="1002" y="1242.52" width="42" height="8.97" fill="#ff5b00"/>
<rect x="1002" y="1250.89" width="42" height="8.97" fill="#ff5000"/>
<rect x="1002" y="1259.26" width="42" height="8.97" fill="#ff4500"/>
<rect x="1002" y="1267.62" width="42" height="8.97" fill="#ff3c00"/>
<rect x="1002" y="1275.99" width="42" height="8.97" fill="#ff3500"/>
<rect x="1002" y="1284.36" width="42" height="8.97" fill="#ff2d00"/>
<rect x="1002" y="1292.73" width="42" height="8.97" fill="#ff2400"/>
<rect x="1002" y="1301.09" width="42" height="8.97" fill="#ff1800"/>
<rect x="1002" y="1309.46" width="42" height="8.97" fill="#ff0b00"/>
<rect x="1002" y="1317.83" width="42" height="8.97" fill="#fe0000"/>
<rect x="1002" y="1326.20" width="42" height="8.97" fill="#f20000"/>
<rect x="1002" y="1334.56" width="42" height="8.97" fill="#e50000"/>
<rect x="1002" y="1342.93" width="42" height="8.97" fill="#d90000"/>
<rect x="1002" y="1351.30" width="42" height="8.97" fill="#ca0000"/>
<rect x="1002" y="1359.66" width="42" height="8.97" fill="#bc0000"/>
<rect x="1002" y="1368.03" width="42" height="8.97" fill="#ac0000"/>
<rect x="1002" y="1376.40" width="42" height="8.97" fill="#9f0000"/>
<rect x="1002" y="1384.77" width="42" height="8.97" fill="#930000"/>
<rect x="1002" y="1393.13" width="42" height="8.97" fill="#860000"/>
<rect x="1002.5" y="866.5" width="41" height="535" fill="none" stroke="#1a1a1a" stroke-opacity="0.8" stroke-width="1"/>
<line x1="1038" y1="919.5" x2="1044" y2="919.5" stroke="#262626" stroke-width="1"/>
<line x1="1038" y1="973.5" x2="1044" y2="973.5" stroke="#262626" stroke-width="1"/>
<line x1="1038" y1="1026.5" x2="1044" y2="1026.5" stroke="#262626" stroke-width="1"/>
<line x1="1038" y1="1080.5" x2="1044" y2="1080.5" stroke="#262626" stroke-width="1"/>
<line x1="1038" y1="1133.5" x2="1044" y2="1133.5" stroke="#262626" stroke-width="1"/>
<line x1="1038" y1="1187.5" x2="1044" y2="1187.5" stroke="#262626" stroke-width="1"/>
<line x1="1038" y1="1241.5" x2="1044" y2="1241.5" stroke="#262626" stroke-width="1"/>
<line x1="1038" y1="1294.5" x2="1044" y2="1294.5" stroke="#262626" stroke-width="1"/>
<line x1="1038" y1="1348.5" x2="1044" y2="1348.5" stroke="#262626" stroke-width="1"/>
<g shape-rendering="auto" text-rendering="geometricPrecision" opacity="0.995">
<text transform="translate(330.74,108.00) scale(1.0792,1)" font-size="29" fill="#000" font-weight="bold" xml:space="preserve">RAW N</text>
<text transform="translate(438.02,94.80) scale(1.0400,1)" font-size="23" fill="#000" font-weight="bold" xml:space="preserve">2</text>
<text transform="translate(461.75,108.00) scale(1.1653,1)" font-size="29" fill="#000" font-weight="bold" xml:space="preserve">(1e-3 s</text>
<text transform="translate(569.26,94.80) scale(1.2432,1)" font-size="23" fill="#000" font-weight="bold" xml:space="preserve">-2</text>
<text transform="translate(597.50,108.00) scale(1.1429,1)" font-size="29" fill="#000" font-weight="bold" xml:space="preserve">) for</text>
<text transform="translate(671.32,108.00) scale(1.1810,1)" font-size="29" fill="#000" font-weight="bold" xml:space="preserve">2902992</text>
<text transform="translate(98.55,180.08) scale(1.1000,1)" font-size="26" fill="#262626" font-weight="normal" xml:space="preserve">200</text>
<text transform="translate(98.55,233.86) scale(1.1000,1)" font-size="26" fill="#262626" font-weight="normal" xml:space="preserve">400</text>
<text transform="translate(98.55,287.64) scale(1.1000,1)" font-size="26" fill="#262626" font-weight="normal" xml:space="preserve">600</text>
<text transform="translate(98.55,341.42) scale(1.1000,1)" font-size="26" fill="#262626" font-weight="normal" xml:space="preserve">800</text>
<text transform="translate(82.88,395.20) scale(1.1000,1)" font-size="26" fill="#262626" font-weight="normal" xml:space="preserve">1000</text>
<text transform="translate(82.88,448.98) scale(1.1000,1)" font-size="26" fill="#262626" font-weight="normal" xml:space="preserve">1200</text>
<text transform="translate(82.88,502.76) scale(1.1000,1)" font-size="26" fill="#262626" font-weight="normal" xml:space="preserve">1400</text>
<text transform="translate(82.88,556.54) scale(1.1000,1)" font-size="26" fill="#262626" font-weight="normal" xml:space="preserve">1600</text>
<text transform="translate(82.88,610.32) scale(1.1000,1)" font-size="26" fill="#262626" font-weight="normal" xml:space="preserve">1800</text>
<text transform="translate(82.88,664.10) scale(1.1000,1)" font-size="26" fill="#262626" font-weight="normal" xml:space="preserve">2000</text>
<text transform="translate(148.33,688.20) scale(1.1000,1)" font-size="26" fill="#262626" font-weight="normal" xml:space="preserve">0</text>
<text transform="translate(249.80,688.20) scale(1.1000,1)" font-size="26" fill="#262626" font-weight="normal" xml:space="preserve">10</text>
<text transform="translate(360.21,688.20) scale(1.1000,1)" font-size="26" fill="#262626" font-weight="normal" xml:space="preserve">20</text>
<text transform="translate(470.35,688.20) scale(1.1000,1)" font-size="26" fill="#262626" font-weight="normal" xml:space="preserve">30</text>
<text transform="translate(580.62,688.20) scale(1.1000,1)" font-size="26" fill="#262626" font-weight="normal" xml:space="preserve">40</text>
<text transform="translate(690.35,688.20) scale(1.1000,1)" font-size="26" fill="#262626" font-weight="normal" xml:space="preserve">50</text>
<text transform="translate(800.21,688.20) scale(1.1000,1)" font-size="26" fill="#262626" font-weight="normal" xml:space="preserve">60</text>
<text transform="translate(910.21,688.20) scale(1.1000,1)" font-size="26" fill="#262626" font-weight="normal" xml:space="preserve">70</text>
<text transform="translate(471.34,721.60) scale(1.0409,1)" font-size="29" fill="#262626" font-weight="normal" xml:space="preserve">Cycle</text>
<text transform="translate(554.60,721.60) scale(1.0677,1)" font-size="29" fill="#262626" font-weight="normal" xml:space="preserve">Number</text>
<text transform="translate(70.50,477.80) rotate(-90) scale(1.0204,1)" font-size="29" fill="#262626" font-weight="normal">Pressure</text>
<text transform="translate(70.50,351.73) rotate(-90) scale(1.1042,1)" font-size="29" fill="#262626" font-weight="normal">(db)</text>
<text transform="translate(1053.21,127.20) scale(1.0940,1)" font-size="23.5" fill="#262626" font-weight="normal" xml:space="preserve">0.05</text>
<text transform="translate(1053.21,180.80) scale(1.0940,1)" font-size="23.5" fill="#262626" font-weight="normal" xml:space="preserve">0.04</text>
<text transform="translate(1053.21,234.40) scale(1.0940,1)" font-size="23.5" fill="#262626" font-weight="normal" xml:space="preserve">0.03</text>
<text transform="translate(1053.21,288.00) scale(1.0940,1)" font-size="23.5" fill="#262626" font-weight="normal" xml:space="preserve">0.02</text>
<text transform="translate(1053.21,341.60) scale(1.0940,1)" font-size="23.5" fill="#262626" font-weight="normal" xml:space="preserve">0.01</text>
<text transform="translate(1053.21,395.20) scale(1.0940,1)" font-size="23.5" fill="#262626" font-weight="normal" xml:space="preserve">0</text>
<text transform="translate(1053.21,448.80) scale(1.0940,1)" font-size="23.5" fill="#262626" font-weight="normal" xml:space="preserve">-0.01</text>
<text transform="translate(1053.21,502.40) scale(1.0940,1)" font-size="23.5" fill="#262626" font-weight="normal" xml:space="preserve">-0.02</text>
<text transform="translate(1053.21,556.00) scale(1.0940,1)" font-size="23.5" fill="#262626" font-weight="normal" xml:space="preserve">-0.03</text>
<text transform="translate(1053.21,609.60) scale(1.0940,1)" font-size="23.5" fill="#262626" font-weight="normal" xml:space="preserve">-0.04</text>
<text transform="translate(1053.21,663.20) scale(1.0940,1)" font-size="23.5" fill="#262626" font-weight="normal" xml:space="preserve">-0.05</text>
<text transform="translate(232.77,522.00) scale(0.9296,1)" font-size="22" fill="#000" font-weight="normal" xml:space="preserve">KISTLER</text>
<text transform="translate(232.80,547.00) scale(0.9536,1)" font-size="22" fill="#000" font-weight="normal" xml:space="preserve">SBE41CP</text>
<text transform="translate(328.10,556.50) scale(1.0273,1)" font-size="16.7" fill="#000" font-weight="normal" xml:space="preserve">V</text>
<text transform="translate(340.27,547.00) scale(0.9756,1)" font-size="22" fill="#000" font-weight="normal" xml:space="preserve">2</text>
<text transform="translate(232.80,581.00) scale(0.9536,1)" font-size="22" fill="#000" font-weight="normal" xml:space="preserve">SBE41CP</text>
<text transform="translate(328.10,590.50) scale(1.0273,1)" font-size="16.7" fill="#000" font-weight="normal" xml:space="preserve">V</text>
<text transform="translate(340.27,581.00) scale(0.9756,1)" font-size="22" fill="#000" font-weight="normal" xml:space="preserve">2</text>
<text transform="translate(298.74,854.50) scale(1.0192,1)" font-size="29" fill="#000" font-weight="bold" xml:space="preserve">ADJUSTED N</text>
<text transform="translate(490.52,841.30) scale(1.0400,1)" font-size="23" fill="#000" font-weight="bold" xml:space="preserve">2</text>
<text transform="translate(514.25,854.50) scale(1.1653,1)" font-size="29" fill="#000" font-weight="bold" xml:space="preserve">(1e-3 s</text>
<text transform="translate(621.76,841.30) scale(1.2432,1)" font-size="23" fill="#000" font-weight="bold" xml:space="preserve">-2</text>
<text transform="translate(650.00,854.50) scale(1.1429,1)" font-size="29" fill="#000" font-weight="bold" xml:space="preserve">) for</text>
<text transform="translate(723.82,854.50) scale(1.1810,1)" font-size="29" fill="#000" font-weight="bold" xml:space="preserve">2902992</text>
<text transform="translate(98.55,927.08) scale(1.1000,1)" font-size="26" fill="#262626" font-weight="normal" xml:space="preserve">200</text>
<text transform="translate(98.55,980.86) scale(1.1000,1)" font-size="26" fill="#262626" font-weight="normal" xml:space="preserve">400</text>
<text transform="translate(98.55,1034.64) scale(1.1000,1)" font-size="26" fill="#262626" font-weight="normal" xml:space="preserve">600</text>
<text transform="translate(98.55,1088.42) scale(1.1000,1)" font-size="26" fill="#262626" font-weight="normal" xml:space="preserve">800</text>
<text transform="translate(82.88,1142.20) scale(1.1000,1)" font-size="26" fill="#262626" font-weight="normal" xml:space="preserve">1000</text>
<text transform="translate(82.88,1195.98) scale(1.1000,1)" font-size="26" fill="#262626" font-weight="normal" xml:space="preserve">1200</text>
<text transform="translate(82.88,1249.76) scale(1.1000,1)" font-size="26" fill="#262626" font-weight="normal" xml:space="preserve">1400</text>
<text transform="translate(82.88,1303.54) scale(1.1000,1)" font-size="26" fill="#262626" font-weight="normal" xml:space="preserve">1600</text>
<text transform="translate(82.88,1357.32) scale(1.1000,1)" font-size="26" fill="#262626" font-weight="normal" xml:space="preserve">1800</text>
<text transform="translate(82.88,1411.10) scale(1.1000,1)" font-size="26" fill="#262626" font-weight="normal" xml:space="preserve">2000</text>
<text transform="translate(148.33,1435.20) scale(1.1000,1)" font-size="26" fill="#262626" font-weight="normal" xml:space="preserve">0</text>
<text transform="translate(249.80,1435.20) scale(1.1000,1)" font-size="26" fill="#262626" font-weight="normal" xml:space="preserve">10</text>
<text transform="translate(360.21,1435.20) scale(1.1000,1)" font-size="26" fill="#262626" font-weight="normal" xml:space="preserve">20</text>
<text transform="translate(470.35,1435.20) scale(1.1000,1)" font-size="26" fill="#262626" font-weight="normal" xml:space="preserve">30</text>
<text transform="translate(580.62,1435.20) scale(1.1000,1)" font-size="26" fill="#262626" font-weight="normal" xml:space="preserve">40</text>
<text transform="translate(690.35,1435.20) scale(1.1000,1)" font-size="26" fill="#262626" font-weight="normal" xml:space="preserve">50</text>
<text transform="translate(800.21,1435.20) scale(1.1000,1)" font-size="26" fill="#262626" font-weight="normal" xml:space="preserve">60</text>
<text transform="translate(910.21,1435.20) scale(1.1000,1)" font-size="26" fill="#262626" font-weight="normal" xml:space="preserve">70</text>
<text transform="translate(471.34,1468.60) scale(1.0409,1)" font-size="29" fill="#262626" font-weight="normal" xml:space="preserve">Cycle</text>
<text transform="translate(554.60,1468.60) scale(1.0677,1)" font-size="29" fill="#262626" font-weight="normal" xml:space="preserve">Number</text>
<text transform="translate(70.50,1224.80) rotate(-90) scale(1.0204,1)" font-size="29" fill="#262626" font-weight="normal">Pressure</text>
<text transform="translate(70.50,1098.73) rotate(-90) scale(1.1042,1)" font-size="29" fill="#262626" font-weight="normal">(db)</text>
<text transform="translate(1053.21,874.20) scale(1.0940,1)" font-size="23.5" fill="#262626" font-weight="normal" xml:space="preserve">0.05</text>
<text transform="translate(1053.21,927.80) scale(1.0940,1)" font-size="23.5" fill="#262626" font-weight="normal" xml:space="preserve">0.04</text>
<text transform="translate(1053.21,981.40) scale(1.0940,1)" font-size="23.5" fill="#262626" font-weight="normal" xml:space="preserve">0.03</text>
<text transform="translate(1053.21,1035.00) scale(1.0940,1)" font-size="23.5" fill="#262626" font-weight="normal" xml:space="preserve">0.02</text>
<text transform="translate(1053.21,1088.60) scale(1.0940,1)" font-size="23.5" fill="#262626" font-weight="normal" xml:space="preserve">0.01</text>
<text transform="translate(1053.21,1142.20) scale(1.0940,1)" font-size="23.5" fill="#262626" font-weight="normal" xml:space="preserve">0</text>
<text transform="translate(1053.21,1195.80) scale(1.0940,1)" font-size="23.5" fill="#262626" font-weight="normal" xml:space="preserve">-0.01</text>
<text transform="translate(1053.21,1249.40) scale(1.0940,1)" font-size="23.5" fill="#262626" font-weight="normal" xml:space="preserve">-0.02</text>
<text transform="translate(1053.21,1303.00) scale(1.0940,1)" font-size="23.5" fill="#262626" font-weight="normal" xml:space="preserve">-0.03</text>
<text transform="translate(1053.21,1356.60) scale(1.0940,1)" font-size="23.5" fill="#262626" font-weight="normal" xml:space="preserve">-0.04</text>
<text transform="translate(1053.21,1410.20) scale(1.0940,1)" font-size="23.5" fill="#262626" font-weight="normal" xml:space="preserve">-0.05</text>
<text transform="translate(266.25,1357.00) scale(0.9484,1)" font-size="26.4" fill="#000" font-weight="normal" xml:space="preserve">ARVOR</text>
<text transform="translate(728.43,1356.00) scale(1.0721,1)" font-size="22" fill="#000" font-weight="normal" xml:space="preserve">5607A09</text>
<text transform="translate(894.40,1356.00) scale(0.9459,1)" font-size="22" fill="#000" font-weight="normal" xml:space="preserve">ARVOR</text>
<text transform="translate(48.34,1549.00) scale(1.0543,1)" font-size="17.6" fill="#000" font-weight="normal" xml:space="preserve">WHOI</text>
<text transform="translate(100.40,1549.00) scale(1.0587,1)" font-size="17.6" fill="#000" font-weight="normal" xml:space="preserve">Argo:22-Nov-2018</text>
</g>
</svg></body></html>
